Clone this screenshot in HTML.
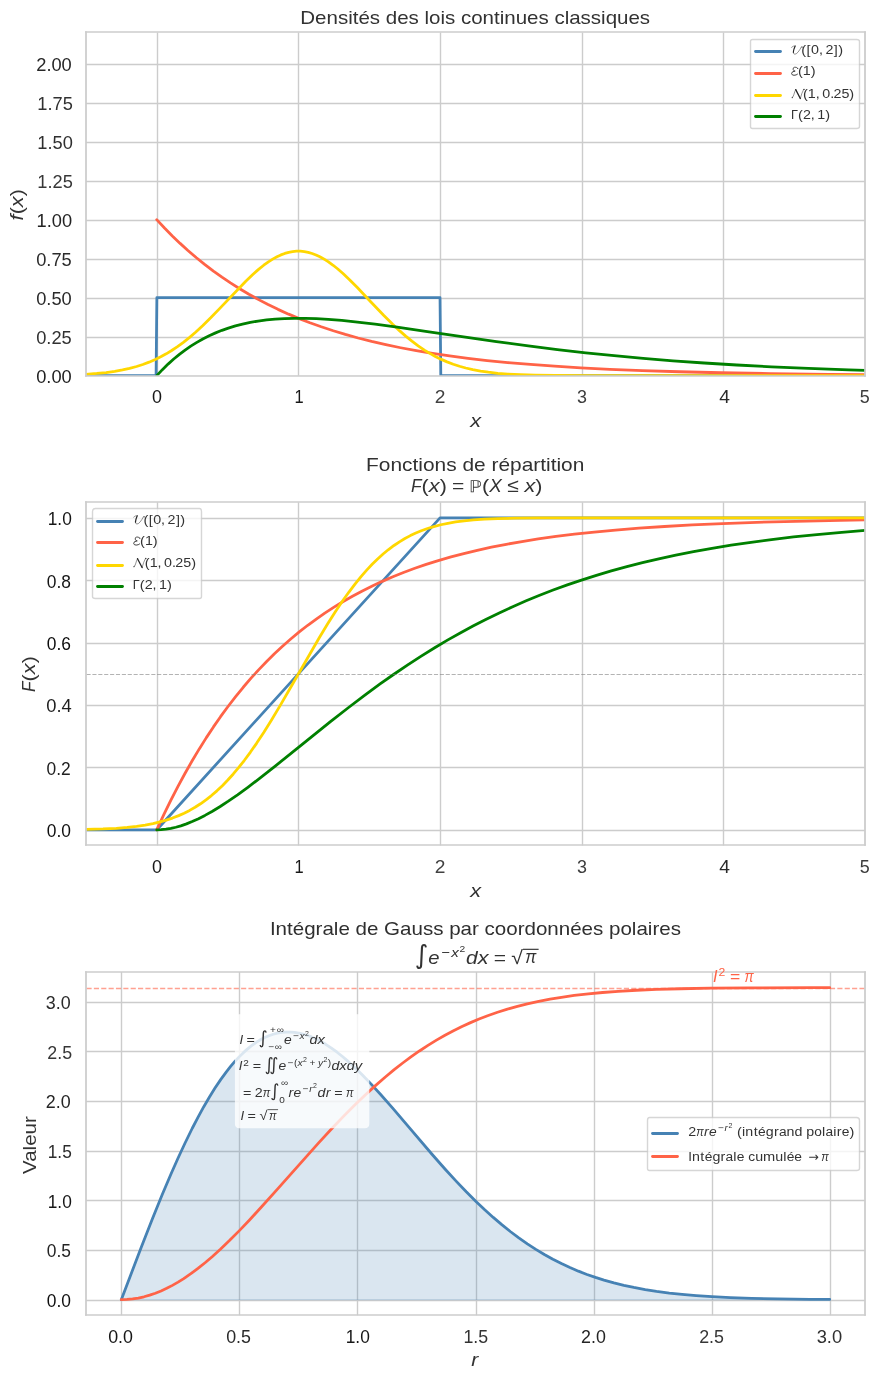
<!DOCTYPE html>
<html><head><meta charset="utf-8"><title>Lois continues</title>
<style>html,body{margin:0;padding:0;background:#fff;width:880px;height:1380px;overflow:hidden;font-family:"Liberation Sans",sans-serif}
#fig{position:relative;width:880px;height:1380px;overflow:hidden;will-change:transform}</style></head>
<body><div id="fig">
<svg width="880" height="1380" viewBox="0 0 880 1380" style="position:absolute;left:0;top:0"><g transform="translate(-9.8 -10.2) scale(1.3888889)">
<defs>
<style type="text/css">*{stroke-linejoin: round; stroke-linecap: butt}</style>
</defs>
<g id="figure_1">
<g id="patch_1">
<path d="M 0 1008 L 648 1008 L 648 0 L 0 0 z
" style="fill: #ffffff"/>
</g>
<g id="axes_1">
<g id="patch_2">
<path d="M 68.886 277.812 L 629.964 277.812 L 629.964 30.696 L 68.886 30.696 z
" style="fill: #ffffff"/>
</g>
<g id="matplotlib.axis_1">
<g id="xtick_1">
<g id="line2d_1">
<path d="M 120.4560 278.4240 L 120.4560 30.7440" clip-path="url(#pe4b443ccc8)" style="fill: none; stroke: #cccccc; stroke-linecap: round"/>
</g>
<g id="T2">
<g id="T2_0" transform="translate(0.2160 0.0000)">
<text style="font-size: 12.644px; font-family: 'Liberation Sans', sans-serif; text-anchor: middle; fill: #161616" x="119.893091" y="297.392" transform="rotate(-0 119.893091 297.392)" textLength="7.185" lengthAdjust="spacingAndGlyphs">0</text>
</g>
</g>
</g>
<g id="xtick_2">
<g id="line2d_2">
<path d="M 221.9760 278.4240 L 221.9760 30.7440" clip-path="url(#pe4b443ccc8)" style="fill: none; stroke: #cccccc; stroke-linecap: round"/>
</g>
<g id="T3">
<g id="T3_0" transform="translate(0.5040 0.0000)">
<text style="font-size: 12.644px; font-family: 'Liberation Sans', sans-serif; text-anchor: middle; fill: #181818" x="221.907273" y="297.392" transform="rotate(-0 221.907273 297.392)" textLength="6.587" lengthAdjust="spacingAndGlyphs">1</text>
</g>
</g>
</g>
<g id="xtick_3">
<g id="line2d_3">
<path d="M 324.2160 278.4240 L 324.2160 30.7440" clip-path="url(#pe4b443ccc8)" style="fill: none; stroke: #cccccc; stroke-linecap: round"/>
</g>
<g id="T4">
<g id="T4_0" transform="translate(0.0000 0.0000)">
<text style="font-size: 12.644px; font-family: 'Liberation Sans', sans-serif; text-anchor: middle; fill: #414141" x="323.921455" y="297.392" transform="rotate(-0 323.921455 297.392)" textLength="7.699" lengthAdjust="spacingAndGlyphs">2</text>
</g>
</g>
</g>
<g id="xtick_4">
<g id="line2d_4">
<path d="M 426.4560 278.4240 L 426.4560 30.7440" clip-path="url(#pe4b443ccc8)" style="fill: none; stroke: #cccccc; stroke-linecap: round"/>
</g>
<g id="T5">
<g id="T5_0" transform="translate(0.2160 0.0000)">
<text style="font-size: 12.644px; font-family: 'Liberation Sans', sans-serif; text-anchor: middle; fill: #3d3d3d" x="425.935636" y="297.392" transform="rotate(-0 425.935636 297.392)" textLength="7.185" lengthAdjust="spacingAndGlyphs">3</text>
</g>
</g>
</g>
<g id="xtick_5">
<g id="line2d_5">
<path d="M 527.9760 278.4240 L 527.9760 30.7440" clip-path="url(#pe4b443ccc8)" style="fill: none; stroke: #cccccc; stroke-linecap: round"/>
</g>
<g id="T6">
<g id="T6_0" transform="translate(0.7560 0.0000)">
<text style="font-size: 12.644px; font-family: 'Liberation Sans', sans-serif; text-anchor: middle; fill: #292929" x="527.949818" y="297.392" transform="rotate(-0 527.949818 297.392)" textLength="7.699" lengthAdjust="spacingAndGlyphs">4</text>
</g>
</g>
</g>
<g id="xtick_6">
<g id="line2d_6">
<path d="M 630.2160 278.4240 L 630.2160 30.7440" clip-path="url(#pe4b443ccc8)" style="fill: none; stroke: #cccccc; stroke-linecap: round"/>
</g>
<g id="T7">
<g id="T7_0" transform="translate(-0.2160 0.0000)">
<text style="font-size: 12.644px; font-family: 'Liberation Sans', sans-serif; text-anchor: middle; fill: #3c3c3c" x="629.964" y="297.392" transform="rotate(-0 629.964 297.392)" textLength="7.185" lengthAdjust="spacingAndGlyphs">5</text>
</g>
</g>
</g>
<g id="T0">
<g id="T0_0" transform="translate(1.0080 1.0080)">
<!-- $x$ -->
<g style="fill: #333333" transform="translate(344.565 314.352)">
<text x="0.0000" y="-0.8906" textLength="7.8117" lengthAdjust="spacingAndGlyphs" style="font-style: italic; font-size: 13.794px; font-family: 'Liberation Sans'; fill: #333333">x</text>
</g>
</g>
</g>
</g>
<g id="matplotlib.axis_2">
<g id="ytick_1">
<g id="line2d_7">
<path d="M 69.3360 278.4240 L 630.2160 278.4240" clip-path="url(#pe4b443ccc8)" style="fill: none; stroke: #cccccc; stroke-linecap: round"/>
</g>
<g id="T9">
<g id="T9_0" transform="translate(-0.6480 0.0000)">
<text style="font-size: 12.644px; font-family: 'Liberation Sans', sans-serif; text-anchor: end; fill: #1f1f1f" x="59.386" y="282.852" transform="rotate(-0 59.386 282.852)" textLength="25.616" lengthAdjust="spacingAndGlyphs">0.00</text>
</g>
</g>
</g>
<g id="ytick_2">
<g id="line2d_8">
<path d="M 69.3360 250.3440 L 630.2160 250.3440" clip-path="url(#pe4b443ccc8)" style="fill: none; stroke: #cccccc; stroke-linecap: round"/>
</g>
<g id="T10">
<g id="T10_0" transform="translate(-0.6480 0.0000)">
<text style="font-size: 12.644px; font-family: 'Liberation Sans', sans-serif; text-anchor: end; fill: #313131" x="59.386" y="254.770636" transform="rotate(-0 59.386 254.770636)" textLength="25.616" lengthAdjust="spacingAndGlyphs">0.25</text>
</g>
</g>
</g>
<g id="ytick_3">
<g id="line2d_9">
<path d="M 69.3360 222.2640 L 630.2160 222.2640" clip-path="url(#pe4b443ccc8)" style="fill: none; stroke: #cccccc; stroke-linecap: round"/>
</g>
<g id="T11">
<g id="T11_0" transform="translate(-0.6480 0.0000)">
<text style="font-size: 12.644px; font-family: 'Liberation Sans', sans-serif; text-anchor: end; fill: #2a2a2a" x="59.386" y="226.689273" transform="rotate(-0 59.386 226.689273)" textLength="25.616" lengthAdjust="spacingAndGlyphs">0.50</text>
</g>
</g>
</g>
<g id="ytick_4">
<g id="line2d_10">
<path d="M 69.3360 194.1840 L 630.2160 194.1840" clip-path="url(#pe4b443ccc8)" style="fill: none; stroke: #cccccc; stroke-linecap: round"/>
</g>
<g id="T12">
<g id="T12_0" transform="translate(-0.6480 0.0000)">
<text style="font-size: 12.644px; font-family: 'Liberation Sans', sans-serif; text-anchor: end; fill: #2b2b2b" x="59.386" y="198.607909" transform="rotate(-0 59.386 198.607909)" textLength="25.616" lengthAdjust="spacingAndGlyphs">0.75</text>
</g>
</g>
</g>
<g id="ytick_5">
<g id="line2d_11">
<path d="M 69.3360 166.1040 L 630.2160 166.1040" clip-path="url(#pe4b443ccc8)" style="fill: none; stroke: #cccccc; stroke-linecap: round"/>
</g>
<g id="T13">
<g id="T13_0" transform="translate(-0.3960 0.0000)">
<text style="font-size: 12.644px; font-family: 'Liberation Sans', sans-serif; text-anchor: end; fill: #232323" x="59.386" y="170.526545" transform="rotate(-0 59.386 170.526545)" textLength="25.559" lengthAdjust="spacingAndGlyphs">1.00</text>
</g>
</g>
</g>
<g id="ytick_6">
<g id="line2d_12">
<path d="M 69.3360 138.0240 L 630.2160 138.0240" clip-path="url(#pe4b443ccc8)" style="fill: none; stroke: #cccccc; stroke-linecap: round"/>
</g>
<g id="T14">
<g id="T14_0" transform="translate(0.1080 0.0000)">
<text style="font-size: 12.644px; font-family: 'Liberation Sans', sans-serif; text-anchor: end; fill: #373737" x="59.386" y="142.445182" transform="rotate(-0 59.386 142.445182)" textLength="25.578" lengthAdjust="spacingAndGlyphs">1.25</text>
</g>
</g>
</g>
<g id="ytick_7">
<g id="line2d_13">
<path d="M 69.3360 109.9440 L 630.2160 109.9440" clip-path="url(#pe4b443ccc8)" style="fill: none; stroke: #cccccc; stroke-linecap: round"/>
</g>
<g id="T15">
<g id="T15_0" transform="translate(0.1080 0.0000)">
<text style="font-size: 12.644px; font-family: 'Liberation Sans', sans-serif; text-anchor: end; fill: #2f2f2f" x="59.386" y="114.363818" transform="rotate(-0 59.386 114.363818)" textLength="25.578" lengthAdjust="spacingAndGlyphs">1.50</text>
</g>
</g>
</g>
<g id="ytick_8">
<g id="line2d_14">
<path d="M 69.3360 81.8640 L 630.2160 81.8640" clip-path="url(#pe4b443ccc8)" style="fill: none; stroke: #cccccc; stroke-linecap: round"/>
</g>
<g id="T16">
<g id="T16_0" transform="translate(0.1080 0.0000)">
<text style="font-size: 12.644px; font-family: 'Liberation Sans', sans-serif; text-anchor: end; fill: #313131" x="59.386" y="86.282455" transform="rotate(-0 59.386 86.282455)" textLength="25.578" lengthAdjust="spacingAndGlyphs">1.75</text>
</g>
</g>
</g>
<g id="ytick_9">
<g id="line2d_15">
<path d="M 69.3360 53.7840 L 630.2160 53.7840" clip-path="url(#pe4b443ccc8)" style="fill: none; stroke: #cccccc; stroke-linecap: round"/>
</g>
<g id="T17">
<g id="T17_0" transform="translate(-0.6480 0.0000)">
<text style="font-size: 12.644px; font-family: 'Liberation Sans', sans-serif; text-anchor: end; fill: #272727" x="59.386" y="58.201091" transform="rotate(-0 59.386 58.201091)" textLength="25.597" lengthAdjust="spacingAndGlyphs">2.00</text>
</g>
</g>
</g>
<g id="T8">
<g id="T8_0" transform="translate(-1.7640 0.5040)">
<!-- $f(x)$ -->
<g style="fill: #333333" transform="translate(25.776 165.817682) rotate(-90)">
<text x="0.2157" y="-0.1250" textLength="4.2157" lengthAdjust="spacingAndGlyphs" style="font-style: italic; font-size: 13.794px; font-family: 'Liberation Sans'; fill: #333333">f</text>
<text x="9.8340" y="-0.1250" textLength="7.8117" lengthAdjust="spacingAndGlyphs" style="font-style: italic; font-size: 13.794px; font-family: 'Liberation Sans'; fill: #333333">x</text>
<text x="4.6647" y="-0.1250" textLength="5.1498" lengthAdjust="spacingAndGlyphs" style="font-style: normal; font-size: 13.794px; font-family: 'Liberation Sans'; fill: #333333">(</text>
<text x="17.6753" y="-0.1250" textLength="5.1498" lengthAdjust="spacingAndGlyphs" style="font-style: normal; font-size: 13.794px; font-family: 'Liberation Sans'; fill: #333333">)</text>
</g>
</g>
</g>
</g>
<g id="line2d_16">
<path d="M 68.886 277.812 L 119.433568 277.812 L 119.995207 221.649273 L 323.870396 221.649273 L 324.432036 277.812 L 629.964 277.812 L 629.964 277.812 " clip-path="url(#pe4b443ccc8)" style="fill: none; stroke: #4682b4; stroke-width: 2; stroke-linecap: round"/>
</g>
<g id="line2d_17">
<path d="M 119.893091 165.486545 L 125.509487 171.503479 L 131.125884 177.198103 L 136.74228 182.587683 L 142.358676 187.68856 L 148.485654 192.942038 L 154.612632 197.889281 L 160.73961 202.548138 L 166.866588 206.935421 L 172.993566 211.06696 L 179.631125 215.271464 L 186.268685 219.211112 L 192.906244 222.902587 L 200.054385 226.61839 L 207.202526 230.082739 L 214.861248 233.534813 L 222.519971 236.737212 L 230.178693 239.707994 L 238.347997 242.640386 L 247.027882 245.509189 L 255.707767 248.143996 L 264.898234 250.699928 L 274.599283 253.15936 L 284.810912 255.507602 L 295.533124 257.732914 L 306.765916 259.82645 L 318.509291 261.782135 L 330.763247 263.596493 L 344.038365 265.331052 L 357.824066 266.908671 L 372.630929 268.381746 L 388.969536 269.777355 L 406.329307 271.034606 L 425.220822 272.180322 L 446.154663 273.22511 L 469.641412 274.1684 L 496.191649 275.003328 L 526.315957 275.721472 L 561.54608 276.331957 L 603.924344 276.835074 L 629.964 277.055157 L 629.964 277.055157 " clip-path="url(#pe4b443ccc8)" style="fill: none; stroke: #ff6347; stroke-width: 2; stroke-linecap: round"/>
</g>
<g id="line2d_18">
<path d="M 68.886 276.816381 L 76.748955 276.249652 L 83.488631 275.556237 L 89.666667 274.701321 L 95.283063 273.698602 L 100.33782 272.577083 L 105.392577 271.214889 L 109.885694 269.775688 L 114.378811 268.098184 L 118.871928 266.161272 L 122.803405 264.238824 L 126.734883 262.092823 L 130.66636 259.715356 L 134.597838 257.10171 L 139.090955 253.824513 L 143.584072 250.243482 L 148.077189 246.372751 L 153.131946 241.701362 L 158.748342 236.174876 L 165.488018 229.199836 L 184.022126 209.79377 L 189.076883 204.957043 L 193.00836 201.478621 L 196.939838 198.307854 L 200.309676 195.873788 L 203.679514 193.732985 L 206.487712 192.192265 L 209.29591 190.887185 L 212.104108 189.829298 L 214.912306 189.028053 L 217.720505 188.490661 L 220.528703 188.221981 L 223.336901 188.22445 L 226.145099 188.498045 L 228.953297 189.040285 L 231.761495 189.846267 L 234.569694 190.908739 L 237.377892 192.218213 L 240.18609 193.763098 L 243.555928 195.908551 L 246.925766 198.34684 L 250.295604 201.048325 L 254.227081 204.489805 L 258.720198 208.738716 L 264.336595 214.401019 L 272.761189 223.289817 L 283.432342 234.512441 L 289.610378 240.671418 L 294.665135 245.408612 L 299.158252 249.345384 L 303.651369 252.997167 L 308.144486 256.347688 L 312.637604 259.389326 L 316.569081 261.797274 L 320.500559 263.97295 L 324.432036 265.923887 L 328.925153 267.89152 L 333.41827 269.597473 L 337.911387 271.062642 L 342.404505 272.309342 L 347.459261 273.479205 L 353.075658 274.527814 L 358.692054 275.352641 L 365.43173 276.101416 L 372.733045 276.680197 L 381.719279 277.150108 L 392.390432 277.475789 L 406.993063 277.688048 L 431.705207 277.792999 L 518.197712 277.811996 L 629.964 277.812 L 629.964 277.812 " clip-path="url(#pe4b443ccc8)" style="fill: none; stroke: #ffd700; stroke-width: 2; stroke-linecap: round"/>
</g>
<g id="line2d_19">
<path d="M 119.893091 277.812 L 123.977743 273.491007 L 128.062395 269.509204 L 132.147047 265.846622 L 136.231699 262.484335 L 140.316351 259.404414 L 144.401002 256.589872 L 148.485654 254.024623 L 153.080888 251.417766 L 157.676121 249.086697 L 162.271355 247.012181 L 166.866588 245.176138 L 171.461821 243.561586 L 176.567636 242.008048 L 181.673451 240.687818 L 187.289848 239.482306 L 192.906244 238.51247 L 199.033222 237.697696 L 205.1602 237.11145 L 211.797759 236.706596 L 218.9459 236.507526 L 226.604622 236.532259 L 234.773926 236.792076 L 243.453812 237.291414 L 253.15486 238.074404 L 264.387653 239.217333 L 277.15219 240.748158 L 292.980216 242.880568 L 315.956383 246.223148 L 364.461625 253.319013 L 387.437792 256.421376 L 408.371633 259.026571 L 428.794893 261.346224 L 449.218152 263.442531 L 470.151993 265.3644 L 491.596416 267.106678 L 514.062002 268.703534 L 537.54875 270.145564 L 562.567243 271.453559 L 589.117481 272.616618 L 618.220626 273.663855 L 629.964 274.027785 L 629.964 274.027785 " clip-path="url(#pe4b443ccc8)" style="fill: none; stroke: #008000; stroke-width: 2; stroke-linecap: round"/>
</g>
<g id="patch_3">
<path d="M 68.9760 278.0640 L 68.9760 30.3840" style="fill: none; stroke: #cccccc; stroke-width: 1.25; stroke-linejoin: miter; stroke-linecap: square"/>
</g>
<g id="patch_4">
<path d="M 629.8560 278.0640 L 629.8560 30.3840" style="fill: none; stroke: #cccccc; stroke-width: 1.25; stroke-linejoin: miter; stroke-linecap: square"/>
</g>
<g id="patch_5">
<path d="M 68.9760 278.0640 L 629.8560 278.0640" style="fill: none; stroke: #cccccc; stroke-width: 1.25; stroke-linejoin: miter; stroke-linecap: square"/>
</g>
<g id="patch_6">
<path d="M 68.9760 30.3840 L 629.8560 30.3840" style="fill: none; stroke: #cccccc; stroke-width: 1.25; stroke-linejoin: miter; stroke-linecap: square"/>
</g>
<g id="T19">
<g id="T19_0" transform="translate(-0.2160 0.0000)">
<text style="font-size: 13.794px; font-family: 'Liberation Sans', sans-serif; text-anchor: middle; fill: #323232" x="349.425" y="24.696" transform="rotate(-0 349.425 24.696)" textLength="251.829" lengthAdjust="spacingAndGlyphs">Densités des lois continues classiques</text>
</g>
</g>
<g id="legend_1">
<g id="patch_7">
<path d="M 548.8560 99.8640 L 623.7360 99.8640 Q 625.8960 99.8640 625.8960 98.4240 L 625.8960 37.2240 Q 625.8960 35.7840 623.7360 35.7840 L 548.8560 35.7840 Q 547.4160 35.7840 547.4160 37.2240 L 547.4160 98.4240 Q 547.4160 99.8640 548.8560 99.8640 z
" style="fill: #ffffff; opacity: 0.8; stroke: #cccccc; stroke-linejoin: miter"/>
</g>
<g id="line2d_20">
<path d="M 551.0160 44.4240 L 559.6560 44.4240 L 569.0160 44.4240" style="fill: none; stroke: #4682b4; stroke-width: 2; stroke-linecap: round"/>
</g>
<g id="T20">
<g id="T20_0" transform="translate(1.0080 -1.0080)">
<!-- $\mathcal{U}([0,2])$ -->
<g style="fill: #333333" transform="translate(575.62539 47.436)">
<g transform="translate(0.0000 -0.1562) scale(0.009000 -0.009000)"><path d="M 37 539 Q 150 680 330 650" style="fill: none; stroke: #262626; stroke-width: 38; stroke-linecap: round"/><path d="M 325 645 Q 185 330 182 140" style="fill: none; stroke: #262626; stroke-width: 95; stroke-linecap: round"/><path d="M 182 150 Q 175 -12 300 -12 Q 520 -12 830 580" style="fill: none; stroke: #262626; stroke-width: 40; stroke-linecap: round"/><circle cx="880" cy="560" r="55" style="fill: #333333"/></g>
<text x="7.3530" y="-0.1562" textLength="3.5112" lengthAdjust="spacingAndGlyphs" style="font-style: normal; font-size: 9.405px; font-family: 'Liberation Sans'; fill: #333333">(</text>
<text x="11.1827" y="-0.1562" textLength="2.8743" lengthAdjust="spacingAndGlyphs" style="font-style: normal; font-size: 9.405px; font-family: 'Liberation Sans'; fill: #333333">[</text>
<text x="14.3755" y="-0.1562" textLength="5.7261" lengthAdjust="spacingAndGlyphs" style="font-style: normal; font-size: 9.405px; font-family: 'Liberation Sans'; fill: #333333">0</text>
<text x="20.1015" y="-0.1562" textLength="2.8608" lengthAdjust="spacingAndGlyphs" style="font-style: normal; font-size: 9.405px; font-family: 'Liberation Sans'; fill: #333333">,</text>
<text x="24.7158" y="-0.1562" textLength="5.7261" lengthAdjust="spacingAndGlyphs" style="font-style: normal; font-size: 9.405px; font-family: 'Liberation Sans'; fill: #333333">2</text>
<text x="30.7603" y="-0.1562" textLength="2.8743" lengthAdjust="spacingAndGlyphs" style="font-style: normal; font-size: 9.405px; font-family: 'Liberation Sans'; fill: #333333">]</text>
<text x="33.9531" y="-0.1562" textLength="3.5112" lengthAdjust="spacingAndGlyphs" style="font-style: normal; font-size: 9.405px; font-family: 'Liberation Sans'; fill: #333333">)</text>
</g>
</g>
</g>
<g id="line2d_21">
<path d="M 551.0160 60.2640 L 559.6560 60.2640 L 569.0160 60.2640" style="fill: none; stroke: #ff6347; stroke-width: 2; stroke-linecap: round"/>
</g>
<g id="T21">
<g id="T21_0" transform="translate(0.9720 -1.0080)">
<!-- $\mathcal{E}(1)$ -->
<g style="fill: #333333" transform="translate(575.62539 62.736)">
<g transform="translate(0.0000 -0.1719) scale(0.009000 -0.009000)"><path d="M 520 570 Q 480 660 300 650 Q 150 630 165 480 Q 185 350 300 335" style="fill: none; stroke: #262626; stroke-width: 62; stroke-linecap: round"/><path d="M 300 335 Q 40 310 45 140 Q 60 0 240 0 Q 420 0 520 90" style="fill: none; stroke: #262626; stroke-width: 70; stroke-linecap: round"/><circle cx="530" cy="555" r="48" style="fill: #333333"/></g>
<text x="4.9770" y="-0.1719" textLength="3.5112" lengthAdjust="spacingAndGlyphs" style="font-style: normal; font-size: 9.405px; font-family: 'Liberation Sans'; fill: #333333">(</text>
<text x="8.4882" y="-0.1719" textLength="5.7261" lengthAdjust="spacingAndGlyphs" style="font-style: normal; font-size: 9.405px; font-family: 'Liberation Sans'; fill: #333333">1</text>
<text x="14.2143" y="-0.1719" textLength="3.5112" lengthAdjust="spacingAndGlyphs" style="font-style: normal; font-size: 9.405px; font-family: 'Liberation Sans'; fill: #333333">)</text>
</g>
</g>
</g>
<g id="line2d_22">
<path d="M 551.0160 76.1040 L 559.6560 76.1040 L 569.0160 76.1040" style="fill: none; stroke: #ffd700; stroke-width: 2; stroke-linecap: round"/>
</g>
<g id="T22">
<g id="T22_0" transform="translate(0.9720 0.0000)">
<!-- $\mathcal{N}(1,0.25)$ -->
<g style="fill: #333333" transform="translate(575.62539 78.756)">
<g transform="translate(0.0000 -0.8438) scale(0.009000 -0.009000)"><path d="M 98 29 Q 150 30 220 250 Q 300 560 376 673" style="fill: none; stroke: #262626; stroke-width: 40; stroke-linecap: round"/><path d="M 376 673 L 742 -37" style="fill: none; stroke: #262626; stroke-width: 105; stroke-linecap: round"/><path d="M 742 -37 Q 850 400 1010 690" style="fill: none; stroke: #262626; stroke-width: 40; stroke-linecap: round"/><circle cx="98" cy="40" r="50" style="fill: #333333"/><circle cx="1040" cy="690" r="55" style="fill: #333333"/></g>
<text x="8.6130" y="-0.8438" textLength="3.5112" lengthAdjust="spacingAndGlyphs" style="font-style: normal; font-size: 9.405px; font-family: 'Liberation Sans'; fill: #333333">(</text>
<text x="12.1242" y="-0.8438" textLength="5.7261" lengthAdjust="spacingAndGlyphs" style="font-style: normal; font-size: 9.405px; font-family: 'Liberation Sans'; fill: #333333">1</text>
<text x="17.8503" y="-0.8438" textLength="2.8608" lengthAdjust="spacingAndGlyphs" style="font-style: normal; font-size: 9.405px; font-family: 'Liberation Sans'; fill: #333333">,</text>
<text x="22.4646" y="-0.8438" textLength="5.7261" lengthAdjust="spacingAndGlyphs" style="font-style: normal; font-size: 9.405px; font-family: 'Liberation Sans'; fill: #333333">0</text>
<text x="28.1906" y="-0.8438" textLength="2.8608" lengthAdjust="spacingAndGlyphs" style="font-style: normal; font-size: 9.405px; font-family: 'Liberation Sans'; fill: #333333">.</text>
<text x="30.5515" y="-0.8438" textLength="5.7261" lengthAdjust="spacingAndGlyphs" style="font-style: normal; font-size: 9.405px; font-family: 'Liberation Sans'; fill: #333333">2</text>
<text x="36.2775" y="-0.8438" textLength="5.7261" lengthAdjust="spacingAndGlyphs" style="font-style: normal; font-size: 9.405px; font-family: 'Liberation Sans'; fill: #333333">5</text>
<text x="42.0036" y="-0.8438" textLength="3.5112" lengthAdjust="spacingAndGlyphs" style="font-style: normal; font-size: 9.405px; font-family: 'Liberation Sans'; fill: #333333">)</text>
</g>
</g>
</g>
<g id="line2d_23">
<path d="M 551.0160 91.2240 L 559.6560 91.2240 L 569.0160 91.2240" style="fill: none; stroke: #008000; stroke-width: 2; stroke-linecap: round"/>
</g>
<g id="T23">
<g id="T23_0" transform="translate(1.0080 -0.5040)">
<!-- $\Gamma(2,1)$ -->
<g style="fill: #333333" transform="translate(575.62539 94.056)">
<text x="0.0000" y="-0.1719" textLength="5.0142" lengthAdjust="spacingAndGlyphs" style="font-style: normal; font-size: 9.405px; font-family: 'Liberation Sans'; fill: #333333">Γ</text>
<text x="5.0142" y="-0.1719" textLength="3.5112" lengthAdjust="spacingAndGlyphs" style="font-style: normal; font-size: 9.405px; font-family: 'Liberation Sans'; fill: #333333">(</text>
<text x="8.5254" y="-0.1719" textLength="5.7261" lengthAdjust="spacingAndGlyphs" style="font-style: normal; font-size: 9.405px; font-family: 'Liberation Sans'; fill: #333333">2</text>
<text x="14.2515" y="-0.1719" textLength="2.8608" lengthAdjust="spacingAndGlyphs" style="font-style: normal; font-size: 9.405px; font-family: 'Liberation Sans'; fill: #333333">,</text>
<text x="18.8657" y="-0.1719" textLength="5.7261" lengthAdjust="spacingAndGlyphs" style="font-style: normal; font-size: 9.405px; font-family: 'Liberation Sans'; fill: #333333">1</text>
<text x="24.5918" y="-0.1719" textLength="3.5112" lengthAdjust="spacingAndGlyphs" style="font-style: normal; font-size: 9.405px; font-family: 'Liberation Sans'; fill: #333333">)</text>
</g>
</g>
</g>
</g>
</g>
<g id="axes_2">
<g id="patch_8">
<path d="M 68.886 616.068 L 629.964 616.068 L 629.964 368.952 L 68.886 368.952 z
" style="fill: #ffffff"/>
</g>
<g id="matplotlib.axis_3">
<g id="xtick_7">
<g id="line2d_24">
<path d="M 120.4560 616.1040 L 120.4560 369.1440" clip-path="url(#pe4210bb935)" style="fill: none; stroke: #cccccc; stroke-linecap: round"/>
</g>
<g id="T26">
<g id="T26_0" transform="translate(0.2160 0.0000)">
<text style="font-size: 12.644px; font-family: 'Liberation Sans', sans-serif; text-anchor: middle; fill: #161616" x="119.893091" y="635.648" transform="rotate(-0 119.893091 635.648)" textLength="7.185" lengthAdjust="spacingAndGlyphs">0</text>
</g>
</g>
</g>
<g id="xtick_8">
<g id="line2d_25">
<path d="M 221.9760 616.1040 L 221.9760 369.1440" clip-path="url(#pe4210bb935)" style="fill: none; stroke: #cccccc; stroke-linecap: round"/>
</g>
<g id="T27">
<g id="T27_0" transform="translate(0.5040 0.0000)">
<text style="font-size: 12.644px; font-family: 'Liberation Sans', sans-serif; text-anchor: middle; fill: #181818" x="221.907273" y="635.648" transform="rotate(-0 221.907273 635.648)" textLength="6.587" lengthAdjust="spacingAndGlyphs">1</text>
</g>
</g>
</g>
<g id="xtick_9">
<g id="line2d_26">
<path d="M 324.2160 616.1040 L 324.2160 369.1440" clip-path="url(#pe4210bb935)" style="fill: none; stroke: #cccccc; stroke-linecap: round"/>
</g>
<g id="T28">
<g id="T28_0" transform="translate(0.0000 0.0000)">
<text style="font-size: 12.644px; font-family: 'Liberation Sans', sans-serif; text-anchor: middle; fill: #414141" x="323.921455" y="635.648" transform="rotate(-0 323.921455 635.648)" textLength="7.699" lengthAdjust="spacingAndGlyphs">2</text>
</g>
</g>
</g>
<g id="xtick_10">
<g id="line2d_27">
<path d="M 426.4560 616.1040 L 426.4560 369.1440" clip-path="url(#pe4210bb935)" style="fill: none; stroke: #cccccc; stroke-linecap: round"/>
</g>
<g id="T29">
<g id="T29_0" transform="translate(0.2160 0.0000)">
<text style="font-size: 12.644px; font-family: 'Liberation Sans', sans-serif; text-anchor: middle; fill: #3d3d3d" x="425.935636" y="635.648" transform="rotate(-0 425.935636 635.648)" textLength="7.185" lengthAdjust="spacingAndGlyphs">3</text>
</g>
</g>
</g>
<g id="xtick_11">
<g id="line2d_28">
<path d="M 527.9760 616.1040 L 527.9760 369.1440" clip-path="url(#pe4210bb935)" style="fill: none; stroke: #cccccc; stroke-linecap: round"/>
</g>
<g id="T30">
<g id="T30_0" transform="translate(0.7560 0.0000)">
<text style="font-size: 12.644px; font-family: 'Liberation Sans', sans-serif; text-anchor: middle; fill: #292929" x="527.949818" y="635.648" transform="rotate(-0 527.949818 635.648)" textLength="7.699" lengthAdjust="spacingAndGlyphs">4</text>
</g>
</g>
</g>
<g id="xtick_12">
<g id="line2d_29">
<path d="M 630.2160 616.1040 L 630.2160 369.1440" clip-path="url(#pe4210bb935)" style="fill: none; stroke: #cccccc; stroke-linecap: round"/>
</g>
<g id="T31">
<g id="T31_0" transform="translate(-0.2160 0.0000)">
<text style="font-size: 12.644px; font-family: 'Liberation Sans', sans-serif; text-anchor: middle; fill: #3c3c3c" x="629.964" y="635.648" transform="rotate(-0 629.964 635.648)" textLength="7.185" lengthAdjust="spacingAndGlyphs">5</text>
</g>
</g>
</g>
<g id="T24">
<g id="T24_0" transform="translate(1.0080 1.5120)">
<!-- $x$ -->
<g style="fill: #333333" transform="translate(344.565 652.608)">
<text x="0.0000" y="-0.8906" textLength="7.8117" lengthAdjust="spacingAndGlyphs" style="font-style: italic; font-size: 13.794px; font-family: 'Liberation Sans'; fill: #333333">x</text>
</g>
</g>
</g>
</g>
<g id="matplotlib.axis_4">
<g id="ytick_10">
<g id="line2d_30">
<path d="M 69.3360 605.3040 L 630.2160 605.3040" clip-path="url(#pe4210bb935)" style="fill: none; stroke: #cccccc; stroke-linecap: round"/>
</g>
<g id="T34">
<g id="T34_0" transform="translate(-1.1880 0.0000)">
<text style="font-size: 12.644px; font-family: 'Liberation Sans', sans-serif; text-anchor: end; fill: #0f0f0f" x="59.386" y="609.875455" transform="rotate(-0 59.386 609.875455)" textLength="17.415" lengthAdjust="spacingAndGlyphs">0.0</text>
</g>
</g>
</g>
<g id="ytick_11">
<g id="line2d_31">
<path d="M 69.3360 559.9440 L 630.2160 559.9440" clip-path="url(#pe4210bb935)" style="fill: none; stroke: #cccccc; stroke-linecap: round"/>
</g>
<g id="T35">
<g id="T35_0" transform="translate(-1.3680 0.5040)">
<text style="font-size: 12.644px; font-family: 'Liberation Sans', sans-serif; text-anchor: end; fill: #202020" x="59.386" y="564.945273" transform="rotate(-0 59.386 564.945273)" textLength="17.415" lengthAdjust="spacingAndGlyphs">0.2</text>
</g>
</g>
</g>
<g id="ytick_12">
<g id="line2d_32">
<path d="M 69.3360 515.3040 L 630.2160 515.3040" clip-path="url(#pe4210bb935)" style="fill: none; stroke: #cccccc; stroke-linecap: round"/>
</g>
<g id="T36">
<g id="T36_0" transform="translate(-0.6840 0.0000)">
<text style="font-size: 12.644px; font-family: 'Liberation Sans', sans-serif; text-anchor: end; fill: #1f1f1f" x="59.386" y="520.015091" transform="rotate(-0 59.386 520.015091)" textLength="18.381" lengthAdjust="spacingAndGlyphs">0.4</text>
</g>
</g>
</g>
<g id="ytick_13">
<g id="line2d_33">
<path d="M 69.3360 470.6640 L 630.2160 470.6640" clip-path="url(#pe4210bb935)" style="fill: none; stroke: #cccccc; stroke-linecap: round"/>
</g>
<g id="T37">
<g id="T37_0" transform="translate(-1.1880 0.0000)">
<text style="font-size: 12.644px; font-family: 'Liberation Sans', sans-serif; text-anchor: end; fill: #0c0c0c" x="59.386" y="475.084909" transform="rotate(-0 59.386 475.084909)" textLength="17.415" lengthAdjust="spacingAndGlyphs">0.6</text>
</g>
</g>
</g>
<g id="ytick_14">
<g id="line2d_34">
<path d="M 69.3360 425.3040 L 630.2160 425.3040" clip-path="url(#pe4210bb935)" style="fill: none; stroke: #cccccc; stroke-linecap: round"/>
</g>
<g id="T38">
<g id="T38_0" transform="translate(-1.1880 0.5040)">
<text style="font-size: 12.644px; font-family: 'Liberation Sans', sans-serif; text-anchor: end; fill: #151515" x="59.386" y="430.154727" transform="rotate(-0 59.386 430.154727)" textLength="17.415" lengthAdjust="spacingAndGlyphs">0.8</text>
</g>
</g>
</g>
<g id="ytick_15">
<g id="line2d_35">
<path d="M 69.3360 380.6640 L 630.2160 380.6640" clip-path="url(#pe4210bb935)" style="fill: none; stroke: #cccccc; stroke-linecap: round"/>
</g>
<g id="T39">
<g id="T39_0" transform="translate(-0.6120 0.0000)">
<text style="font-size: 12.644px; font-family: 'Liberation Sans', sans-serif; text-anchor: end; fill: #161616" x="59.386" y="385.224545" transform="rotate(-0 59.386 385.224545)" textLength="17.339" lengthAdjust="spacingAndGlyphs">1.0</text>
</g>
</g>
</g>
<g id="T32">
<g id="T32_0" transform="translate(-1.2600 0.0000)">
<!-- $F(x)$ -->
<g style="fill: #333333" transform="translate(33.426 505.549783) rotate(-90)">
<text x="0.0000" y="-0.1406" textLength="7.5926" lengthAdjust="spacingAndGlyphs" style="font-style: italic; font-size: 13.794px; font-family: 'Liberation Sans'; fill: #333333">F</text>
<text x="12.7906" y="-0.1406" textLength="7.8117" lengthAdjust="spacingAndGlyphs" style="font-style: italic; font-size: 13.794px; font-family: 'Liberation Sans'; fill: #333333">x</text>
<text x="7.6213" y="-0.1406" textLength="5.1498" lengthAdjust="spacingAndGlyphs" style="font-style: normal; font-size: 13.794px; font-family: 'Liberation Sans'; fill: #333333">(</text>
<text x="20.6320" y="-0.1406" textLength="5.1498" lengthAdjust="spacingAndGlyphs" style="font-style: normal; font-size: 13.794px; font-family: 'Liberation Sans'; fill: #333333">)</text>
</g>
</g>
</g>
</g>
<g id="line2d_36">
<path d="M 68.886 604.835455 L 119.433568 604.835455 L 119.995207 604.723017 L 323.870396 380.240764 L 324.993676 380.184545 L 629.964 380.184545 L 629.964 380.184545 " clip-path="url(#pe4210bb935)" style="fill: none; stroke: #4682b4; stroke-width: 2; stroke-linecap: round"/>
</g>
<g id="line2d_37">
<path d="M 119.893091 604.835455 L 124.998906 593.868405 L 130.104721 583.436747 L 135.210536 573.514344 L 140.316351 564.076335 L 145.422165 555.099071 L 150.52798 546.560062 L 155.633795 538.437912 L 160.73961 530.71227 L 165.845425 523.36378 L 170.95124 516.37403 L 176.567636 509.078773 L 182.184033 502.174301 L 187.800429 495.639681 L 193.416826 489.4551 L 199.033222 483.601809 L 204.649618 478.062061 L 210.266015 472.81906 L 216.392993 467.419206 L 222.519971 462.334121 L 228.646948 457.545456 L 234.773926 453.035931 L 240.900904 448.789276 L 247.538464 444.467624 L 254.176023 440.418207 L 260.813582 436.623878 L 267.961723 432.804543 L 275.109864 429.243668 L 282.258005 425.923763 L 289.916727 422.615621 L 297.57545 419.546744 L 305.744753 416.517525 L 313.914057 413.721427 L 322.593943 410.985962 L 331.78441 408.332385 L 340.974876 405.907416 L 350.675925 403.574004 L 360.887554 401.346084 L 371.609766 399.234795 L 382.842559 397.24853 L 394.585933 395.393053 L 407.35047 393.604327 L 420.625589 391.966861 L 434.921871 390.426163 L 450.239315 388.998264 L 467.088505 387.656408 L 485.469438 386.424445 L 505.382116 385.317949 L 527.33712 384.323957 L 551.845032 383.43994 L 579.927014 382.656572 L 612.093648 381.988034 L 629.964 381.698231 L 629.964 381.698231 " clip-path="url(#pe4210bb935)" style="fill: none; stroke: #ff6347; stroke-width: 2; stroke-linecap: round"/>
</g>
<g id="line2d_38">
<path d="M 68.886 604.532199 L 81.242072 604.181728 L 90.789946 603.695001 L 98.652901 603.074851 L 105.392577 602.324438 L 111.570613 601.406312 L 117.187009 600.334862 L 122.241766 599.139806 L 126.734883 597.864522 L 131.228 596.361582 L 135.721117 594.604028 L 139.652595 592.835873 L 143.584072 590.833824 L 147.51555 588.580364 L 151.447027 586.058938 L 155.378505 583.254382 L 159.309982 580.153374 L 163.241459 576.744876 L 167.172937 573.02058 L 171.104414 568.975318 L 175.035892 564.607443 L 178.967369 559.919146 L 182.898847 554.916716 L 187.391964 548.828734 L 191.885081 542.367081 L 196.939838 534.688748 L 202.556234 525.712712 L 208.73427 515.401074 L 216.597225 501.82327 L 236.816252 466.682239 L 242.994288 456.487648 L 248.610685 447.648335 L 253.665441 440.113831 L 258.158559 433.793387 L 262.651676 427.856264 L 267.144793 422.322294 L 271.07627 417.820761 L 275.007748 413.641412 L 278.939225 409.784162 L 282.870703 406.245261 L 286.80218 403.017659 L 290.733658 400.0914 L 294.665135 397.454055 L 298.596613 395.091173 L 302.52809 392.986723 L 306.459568 391.123538 L 310.391045 389.483723 L 314.884162 387.85977 L 319.377279 386.476572 L 324.432036 385.17518 L 329.486793 384.108654 L 335.103189 383.158004 L 341.281225 382.348627 L 348.020901 381.691751 L 355.883856 381.153194 L 365.43173 380.734464 L 377.787802 380.436457 L 395.198631 380.260961 L 428.897009 380.190104 L 629.964 380.184545 L 629.964 380.184545 " clip-path="url(#pe4210bb935)" style="fill: none; stroke: #ffd700; stroke-width: 2; stroke-linecap: round"/>
</g>
<g id="line2d_39">
<path d="M 119.893091 604.835455 L 122.95658 604.736164 L 126.53065 604.380061 L 130.104721 603.782313 L 133.678791 602.959982 L 137.252862 601.92924 L 141.337514 600.515674 L 145.422165 598.871475 L 150.017399 596.771279 L 154.612632 594.431836 L 159.718447 591.582385 L 165.334844 588.180739 L 171.461821 584.194931 L 178.099381 579.60513 L 185.758103 574.024886 L 194.437989 567.418824 L 205.670781 558.566897 L 223.541133 544.149869 L 244.985556 526.919706 L 258.260675 516.545826 L 270.004049 507.655677 L 280.72626 499.818023 L 290.93789 492.627608 L 300.638939 486.059916 L 310.339987 479.758494 L 320.041035 473.729077 L 329.231502 468.27021 L 338.421969 463.057629 L 347.612436 458.089414 L 356.802903 453.362148 L 366.503951 448.628511 L 376.204999 444.15151 L 385.906048 439.923536 L 395.607096 435.93625 L 405.308144 432.180778 L 415.519774 428.467915 L 425.731404 424.990606 L 436.453615 421.580705 L 447.175826 418.405214 L 458.408619 415.315949 L 469.641412 412.455385 L 481.384786 409.694019 L 493.638742 407.045812 L 506.403279 404.522484 L 519.678398 402.133457 L 533.464098 399.88584 L 547.76038 397.784477 L 562.567243 395.832032 L 578.395269 393.972561 L 595.244459 392.224754 L 613.114811 390.602793 L 629.964 389.266661 L 629.964 389.266661 " clip-path="url(#pe4210bb935)" style="fill: none; stroke: #008000; stroke-width: 2; stroke-linecap: round"/>
</g>
<g id="line2d_40">
<path d="M 69.3360 492.9840 L 630.2160 492.9840" clip-path="url(#pe4210bb935)" style="fill: none; stroke-dasharray: 2.96,1.28; stroke-dashoffset: 0; stroke: #808080; stroke-opacity: 0.6; stroke-width: 0.8"/>
</g>
<g id="patch_9">
<path d="M 68.9760 615.7440 L 68.9760 368.7840" style="fill: none; stroke: #cccccc; stroke-width: 1.25; stroke-linejoin: miter; stroke-linecap: square"/>
</g>
<g id="patch_10">
<path d="M 629.8560 615.7440 L 629.8560 368.7840" style="fill: none; stroke: #cccccc; stroke-width: 1.25; stroke-linejoin: miter; stroke-linecap: square"/>
</g>
<g id="patch_11">
<path d="M 68.9760 615.7440 L 629.8560 615.7440" style="fill: none; stroke: #cccccc; stroke-width: 1.25; stroke-linejoin: miter; stroke-linecap: square"/>
</g>
<g id="patch_12">
<path d="M 68.9760 368.7840 L 629.8560 368.7840" style="fill: none; stroke: #cccccc; stroke-width: 1.25; stroke-linejoin: miter; stroke-linecap: square"/>
</g>
<g id="T41">
<g id="T41_0" transform="translate(0.0000 0.0000)">
<text style="font-size: 13.794px; font-family: 'Liberation Sans', sans-serif; fill: #313131" transform="translate(270.63 346.248)" textLength="157.140" lengthAdjust="spacingAndGlyphs">Fonctions de répartition</text>
</g>
<g id="T41_1" transform="translate(1.0080 -1.0080)">
<!-- $F(x) = \mathbb{P}(X \leq x)$ -->
<g style="fill: #333333" transform="translate(301.992462 362.952)">
<text x="0.0000" y="-0.1406" textLength="7.5926" lengthAdjust="spacingAndGlyphs" style="font-style: italic; font-size: 13.794px; font-family: 'Liberation Sans'; fill: #333333">F</text>
<text x="12.7906" y="-0.1406" textLength="7.8117" lengthAdjust="spacingAndGlyphs" style="font-style: italic; font-size: 13.794px; font-family: 'Liberation Sans'; fill: #333333">x</text>
<text x="56.3382" y="-0.1406" textLength="9.0428" lengthAdjust="spacingAndGlyphs" style="font-style: italic; font-size: 13.794px; font-family: 'Liberation Sans'; fill: #333333">X</text>
<text x="81.6801" y="-0.1406" textLength="7.8117" lengthAdjust="spacingAndGlyphs" style="font-style: italic; font-size: 13.794px; font-family: 'Liberation Sans'; fill: #333333">x</text>
<text x="7.6213" y="-0.1406" textLength="5.1498" lengthAdjust="spacingAndGlyphs" style="font-style: normal; font-size: 13.794px; font-family: 'Liberation Sans'; fill: #333333">(</text>
<text x="20.6320" y="-0.1406" textLength="5.1498" lengthAdjust="spacingAndGlyphs" style="font-style: normal; font-size: 13.794px; font-family: 'Liberation Sans'; fill: #333333">)</text>
<text x="29.4823" y="-0.1406" textLength="8.8610" lengthAdjust="spacingAndGlyphs" style="font-style: normal; font-size: 13.794px; font-family: 'Liberation Sans'; fill: #333333">=</text>
<text x="51.1689" y="-0.1406" textLength="5.1498" lengthAdjust="spacingAndGlyphs" style="font-style: normal; font-size: 13.794px; font-family: 'Liberation Sans'; fill: #333333">(</text>
<text x="69.3629" y="-0.1406" textLength="8.3276" lengthAdjust="spacingAndGlyphs" style="font-style: normal; font-size: 13.794px; font-family: 'Liberation Sans'; fill: #333333">≤</text>
<text x="89.5214" y="-0.1406" textLength="5.1498" lengthAdjust="spacingAndGlyphs" style="font-style: normal; font-size: 13.794px; font-family: 'Liberation Sans'; fill: #333333">)</text>
<path transform="translate(42.0662 -0.1406) scale(0.013200 -0.013200)" d="M70 662H390Q494 662 561 611Q628 560 628 459Q628 357 561.5 305Q495 253 391 253H236V0H70ZM491 604V310Q533 324 558.5 367Q584 410 584 457Q584 507 560 548Q536 589 491 604ZM447 305V609Q429 618 388 618H236V297H381Q430 297 447 305ZM192 44V618H114V44Z" style="fill: #333333"/>
</g>
</g>
</g>
<g id="legend_2">
<g id="patch_13">
<path d="M 75.8160 438.2640 L 150.6960 438.2640 Q 152.1360 438.2640 152.1360 436.8240 L 152.1360 375.6240 Q 152.1360 373.4640 150.6960 373.4640 L 75.8160 373.4640 Q 73.6560 373.4640 73.6560 375.6240 L 73.6560 436.8240 Q 73.6560 438.2640 75.8160 438.2640 z
" style="fill: #ffffff; opacity: 0.8; stroke: #cccccc; stroke-linejoin: miter"/>
</g>
<g id="line2d_41">
<path d="M 77.2560 382.8240 L 86.6160 382.8240 L 95.2560 382.8240" style="fill: none; stroke: #4682b4; stroke-width: 2; stroke-linecap: round"/>
</g>
<g id="T42">
<g id="T42_0" transform="translate(0.7560 -1.0080)">
<!-- $\mathcal{U}([0,2])$ -->
<g style="fill: #333333" transform="translate(102.186 385.692)">
<g transform="translate(0.0000 -0.1562) scale(0.009000 -0.009000)"><path d="M 37 539 Q 150 680 330 650" style="fill: none; stroke: #262626; stroke-width: 38; stroke-linecap: round"/><path d="M 325 645 Q 185 330 182 140" style="fill: none; stroke: #262626; stroke-width: 95; stroke-linecap: round"/><path d="M 182 150 Q 175 -12 300 -12 Q 520 -12 830 580" style="fill: none; stroke: #262626; stroke-width: 40; stroke-linecap: round"/><circle cx="880" cy="560" r="55" style="fill: #333333"/></g>
<text x="7.3530" y="-0.1562" textLength="3.5112" lengthAdjust="spacingAndGlyphs" style="font-style: normal; font-size: 9.405px; font-family: 'Liberation Sans'; fill: #333333">(</text>
<text x="11.1827" y="-0.1562" textLength="2.8743" lengthAdjust="spacingAndGlyphs" style="font-style: normal; font-size: 9.405px; font-family: 'Liberation Sans'; fill: #333333">[</text>
<text x="14.3755" y="-0.1562" textLength="5.7261" lengthAdjust="spacingAndGlyphs" style="font-style: normal; font-size: 9.405px; font-family: 'Liberation Sans'; fill: #333333">0</text>
<text x="20.1015" y="-0.1562" textLength="2.8608" lengthAdjust="spacingAndGlyphs" style="font-style: normal; font-size: 9.405px; font-family: 'Liberation Sans'; fill: #333333">,</text>
<text x="24.7158" y="-0.1562" textLength="5.7261" lengthAdjust="spacingAndGlyphs" style="font-style: normal; font-size: 9.405px; font-family: 'Liberation Sans'; fill: #333333">2</text>
<text x="30.7603" y="-0.1562" textLength="2.8743" lengthAdjust="spacingAndGlyphs" style="font-style: normal; font-size: 9.405px; font-family: 'Liberation Sans'; fill: #333333">]</text>
<text x="33.9531" y="-0.1562" textLength="3.5112" lengthAdjust="spacingAndGlyphs" style="font-style: normal; font-size: 9.405px; font-family: 'Liberation Sans'; fill: #333333">)</text>
</g>
</g>
</g>
<g id="line2d_42">
<path d="M 77.2560 397.9440 L 86.6160 397.9440 L 95.2560 397.9440" style="fill: none; stroke: #ff6347; stroke-width: 2; stroke-linecap: round"/>
</g>
<g id="T43">
<g id="T43_0" transform="translate(0.7200 -1.0080)">
<!-- $\mathcal{E}(1)$ -->
<g style="fill: #333333" transform="translate(102.186 400.992)">
<g transform="translate(0.0000 -0.1719) scale(0.009000 -0.009000)"><path d="M 520 570 Q 480 660 300 650 Q 150 630 165 480 Q 185 350 300 335" style="fill: none; stroke: #262626; stroke-width: 62; stroke-linecap: round"/><path d="M 300 335 Q 40 310 45 140 Q 60 0 240 0 Q 420 0 520 90" style="fill: none; stroke: #262626; stroke-width: 70; stroke-linecap: round"/><circle cx="530" cy="555" r="48" style="fill: #333333"/></g>
<text x="4.9770" y="-0.1719" textLength="3.5112" lengthAdjust="spacingAndGlyphs" style="font-style: normal; font-size: 9.405px; font-family: 'Liberation Sans'; fill: #333333">(</text>
<text x="8.4882" y="-0.1719" textLength="5.7261" lengthAdjust="spacingAndGlyphs" style="font-style: normal; font-size: 9.405px; font-family: 'Liberation Sans'; fill: #333333">1</text>
<text x="14.2143" y="-0.1719" textLength="3.5112" lengthAdjust="spacingAndGlyphs" style="font-style: normal; font-size: 9.405px; font-family: 'Liberation Sans'; fill: #333333">)</text>
</g>
</g>
</g>
<g id="line2d_43">
<path d="M 77.2560 414.5040 L 86.6160 414.5040 L 95.2560 414.5040" style="fill: none; stroke: #ffd700; stroke-width: 2; stroke-linecap: round"/>
</g>
<g id="T44">
<g id="T44_0" transform="translate(0.5040 -0.5040)">
<!-- $\mathcal{N}(1,0.25)$ -->
<g style="fill: #333333" transform="translate(102.186 417.012)">
<g transform="translate(0.0000 -0.8438) scale(0.009000 -0.009000)"><path d="M 98 29 Q 150 30 220 250 Q 300 560 376 673" style="fill: none; stroke: #262626; stroke-width: 40; stroke-linecap: round"/><path d="M 376 673 L 742 -37" style="fill: none; stroke: #262626; stroke-width: 105; stroke-linecap: round"/><path d="M 742 -37 Q 850 400 1010 690" style="fill: none; stroke: #262626; stroke-width: 40; stroke-linecap: round"/><circle cx="98" cy="40" r="50" style="fill: #333333"/><circle cx="1040" cy="690" r="55" style="fill: #333333"/></g>
<text x="8.6130" y="-0.8438" textLength="3.5112" lengthAdjust="spacingAndGlyphs" style="font-style: normal; font-size: 9.405px; font-family: 'Liberation Sans'; fill: #333333">(</text>
<text x="12.1242" y="-0.8438" textLength="5.7261" lengthAdjust="spacingAndGlyphs" style="font-style: normal; font-size: 9.405px; font-family: 'Liberation Sans'; fill: #333333">1</text>
<text x="17.8503" y="-0.8438" textLength="2.8608" lengthAdjust="spacingAndGlyphs" style="font-style: normal; font-size: 9.405px; font-family: 'Liberation Sans'; fill: #333333">,</text>
<text x="22.4646" y="-0.8438" textLength="5.7261" lengthAdjust="spacingAndGlyphs" style="font-style: normal; font-size: 9.405px; font-family: 'Liberation Sans'; fill: #333333">0</text>
<text x="28.1906" y="-0.8438" textLength="2.8608" lengthAdjust="spacingAndGlyphs" style="font-style: normal; font-size: 9.405px; font-family: 'Liberation Sans'; fill: #333333">.</text>
<text x="30.5515" y="-0.8438" textLength="5.7261" lengthAdjust="spacingAndGlyphs" style="font-style: normal; font-size: 9.405px; font-family: 'Liberation Sans'; fill: #333333">2</text>
<text x="36.2775" y="-0.8438" textLength="5.7261" lengthAdjust="spacingAndGlyphs" style="font-style: normal; font-size: 9.405px; font-family: 'Liberation Sans'; fill: #333333">5</text>
<text x="42.0036" y="-0.8438" textLength="3.5112" lengthAdjust="spacingAndGlyphs" style="font-style: normal; font-size: 9.405px; font-family: 'Liberation Sans'; fill: #333333">)</text>
</g>
</g>
</g>
<g id="line2d_44">
<path d="M 77.2560 429.6240 L 86.6160 429.6240 L 95.2560 429.6240" style="fill: none; stroke: #008000; stroke-width: 2; stroke-linecap: round"/>
</g>
<g id="T45">
<g id="T45_0" transform="translate(0.5040 -0.5040)">
<!-- $\Gamma(2,1)$ -->
<g style="fill: #333333" transform="translate(102.186 432.312)">
<text x="0.0000" y="-0.1719" textLength="5.0142" lengthAdjust="spacingAndGlyphs" style="font-style: normal; font-size: 9.405px; font-family: 'Liberation Sans'; fill: #333333">Γ</text>
<text x="5.0142" y="-0.1719" textLength="3.5112" lengthAdjust="spacingAndGlyphs" style="font-style: normal; font-size: 9.405px; font-family: 'Liberation Sans'; fill: #333333">(</text>
<text x="8.5254" y="-0.1719" textLength="5.7261" lengthAdjust="spacingAndGlyphs" style="font-style: normal; font-size: 9.405px; font-family: 'Liberation Sans'; fill: #333333">2</text>
<text x="14.2515" y="-0.1719" textLength="2.8608" lengthAdjust="spacingAndGlyphs" style="font-style: normal; font-size: 9.405px; font-family: 'Liberation Sans'; fill: #333333">,</text>
<text x="18.8657" y="-0.1719" textLength="5.7261" lengthAdjust="spacingAndGlyphs" style="font-style: normal; font-size: 9.405px; font-family: 'Liberation Sans'; fill: #333333">1</text>
<text x="24.5918" y="-0.1719" textLength="3.5112" lengthAdjust="spacingAndGlyphs" style="font-style: normal; font-size: 9.405px; font-family: 'Liberation Sans'; fill: #333333">)</text>
</g>
</g>
</g>
</g>
</g>
<g id="axes_3">
<g id="patch_14">
<path d="M 68.886 954.324 L 629.964 954.324 L 629.964 707.208 L 68.886 707.208 z
" style="fill: #ffffff"/>
</g>
<g id="matplotlib.axis_5">
<g id="xtick_13">
<g id="line2d_45">
<path d="M 94.5360 954.5040 L 94.5360 707.5440" clip-path="url(#p8ad40d5c7a)" style="fill: none; stroke: #cccccc; stroke-linecap: round"/>
</g>
<g id="T50">
<g id="T50_0" transform="translate(-0.5400 0.5040)">
<text style="font-size: 12.644px; font-family: 'Liberation Sans', sans-serif; text-anchor: middle; fill: #161616" x="94.389545" y="973.904" transform="rotate(-0 94.389545 973.904)" textLength="17.861" lengthAdjust="spacingAndGlyphs">0.0</text>
</g>
</g>
</g>
<g id="xtick_14">
<g id="line2d_46">
<path d="M 179.4960 954.5040 L 179.4960 707.5440" clip-path="url(#p8ad40d5c7a)" style="fill: none; stroke: #cccccc; stroke-linecap: round"/>
</g>
<g id="T51">
<g id="T51_0" transform="translate(-0.5400 0.5040)">
<text style="font-size: 12.644px; font-family: 'Liberation Sans', sans-serif; text-anchor: middle; fill: #2a2a2a" x="179.401364" y="973.904" transform="rotate(-0 179.401364 973.904)" textLength="17.861" lengthAdjust="spacingAndGlyphs">0.5</text>
</g>
</g>
</g>
<g id="xtick_15">
<g id="line2d_47">
<path d="M 264.4560 954.5040 L 264.4560 707.5440" clip-path="url(#p8ad40d5c7a)" style="fill: none; stroke: #cccccc; stroke-linecap: round"/>
</g>
<g id="T52">
<g id="T52_0" transform="translate(0.2520 0.5040)">
<text style="font-size: 12.644px; font-family: 'Liberation Sans', sans-serif; text-anchor: middle; fill: #171717" x="264.413182" y="973.904" transform="rotate(-0 264.413182 973.904)" textLength="17.367" lengthAdjust="spacingAndGlyphs">1.0</text>
</g>
</g>
</g>
<g id="xtick_16">
<g id="line2d_48">
<path d="M 350.1360 954.5040 L 350.1360 707.5440" clip-path="url(#p8ad40d5c7a)" style="fill: none; stroke: #cccccc; stroke-linecap: round"/>
</g>
<g id="T53">
<g id="T53_0" transform="translate(0.2160 0.5040)">
<text style="font-size: 12.644px; font-family: 'Liberation Sans', sans-serif; text-anchor: middle; fill: #323232" x="349.425" y="973.904" transform="rotate(-0 349.425 973.904)" textLength="17.804" lengthAdjust="spacingAndGlyphs">1.5</text>
</g>
</g>
</g>
<g id="xtick_17">
<g id="line2d_49">
<path d="M 435.0960 954.5040 L 435.0960 707.5440" clip-path="url(#p8ad40d5c7a)" style="fill: none; stroke: #cccccc; stroke-linecap: round"/>
</g>
<g id="T54">
<g id="T54_0" transform="translate(-0.0360 0.5040)">
<text style="font-size: 12.644px; font-family: 'Liberation Sans', sans-serif; text-anchor: middle; fill: #252525" x="434.436818" y="973.904" transform="rotate(-0 434.436818 973.904)" textLength="17.861" lengthAdjust="spacingAndGlyphs">2.0</text>
</g>
</g>
</g>
<g id="xtick_18">
<g id="line2d_50">
<path d="M 520.0560 954.5040 L 520.0560 707.5440" clip-path="url(#p8ad40d5c7a)" style="fill: none; stroke: #cccccc; stroke-linecap: round"/>
</g>
<g id="T55">
<g id="T55_0" transform="translate(-0.0360 0.5040)">
<text style="font-size: 12.644px; font-family: 'Liberation Sans', sans-serif; text-anchor: middle; fill: #363636" x="519.448636" y="973.904" transform="rotate(-0 519.448636 973.904)" textLength="17.861" lengthAdjust="spacingAndGlyphs">2.5</text>
</g>
</g>
</g>
<g id="xtick_19">
<g id="line2d_51">
<path d="M 605.0160 954.5040 L 605.0160 707.5440" clip-path="url(#p8ad40d5c7a)" style="fill: none; stroke: #cccccc; stroke-linecap: round"/>
</g>
<g id="T56">
<g id="T56_0" transform="translate(-0.2520 0.5040)">
<text style="font-size: 12.644px; font-family: 'Liberation Sans', sans-serif; text-anchor: middle; fill: #2f2f2f" x="604.460455" y="973.904" transform="rotate(-0 604.460455 973.904)" textLength="18.319" lengthAdjust="spacingAndGlyphs">3.0</text>
</g>
</g>
</g>
<g id="T48">
<g id="T48_0" transform="translate(0.5040 0.5040)">
<!-- $r$ -->
<g style="fill: #333333" transform="translate(345.645 990.864)">
<text x="0.1870" y="-0.7188" textLength="5.0529" lengthAdjust="spacingAndGlyphs" style="font-style: italic; font-size: 13.794px; font-family: 'Liberation Sans'; fill: #333333">r</text>
</g>
</g>
</g>
</g>
<g id="matplotlib.axis_6">
<g id="ytick_16">
<g id="line2d_52">
<path d="M 69.3360 943.7040 L 630.2160 943.7040" clip-path="url(#p8ad40d5c7a)" style="fill: none; stroke: #cccccc; stroke-linecap: round"/>
</g>
<g id="T60">
<g id="T60_0" transform="translate(-1.1880 0.0000)">
<text style="font-size: 12.644px; font-family: 'Liberation Sans', sans-serif; text-anchor: end; fill: #0f0f0f" x="59.386" y="948.131455" transform="rotate(-0 59.386 948.131455)" textLength="17.415" lengthAdjust="spacingAndGlyphs">0.0</text>
</g>
</g>
</g>
<g id="ytick_17">
<g id="line2d_53">
<path d="M 69.3360 907.7040 L 630.2160 907.7040" clip-path="url(#p8ad40d5c7a)" style="fill: none; stroke: #cccccc; stroke-linecap: round"/>
</g>
<g id="T61">
<g id="T61_0" transform="translate(-1.1880 0.0000)">
<text style="font-size: 12.644px; font-family: 'Liberation Sans', sans-serif; text-anchor: end; fill: #242424" x="59.386" y="912.372739" transform="rotate(-0 59.386 912.372739)" textLength="17.415" lengthAdjust="spacingAndGlyphs">0.5</text>
</g>
</g>
</g>
<g id="ytick_18">
<g id="line2d_54">
<path d="M 69.3360 871.7040 L 630.2160 871.7040" clip-path="url(#p8ad40d5c7a)" style="fill: none; stroke: #cccccc; stroke-linecap: round"/>
</g>
<g id="T62">
<g id="T62_0" transform="translate(-0.6120 0.5040)">
<text style="font-size: 12.644px; font-family: 'Liberation Sans', sans-serif; text-anchor: end; fill: #161616" x="59.386" y="876.614023" transform="rotate(-0 59.386 876.614023)" textLength="17.339" lengthAdjust="spacingAndGlyphs">1.0</text>
</g>
</g>
</g>
<g id="ytick_19">
<g id="line2d_55">
<path d="M 69.3360 836.4240 L 630.2160 836.4240" clip-path="url(#p8ad40d5c7a)" style="fill: none; stroke: #cccccc; stroke-linecap: round"/>
</g>
<g id="T63">
<g id="T63_0" transform="translate(-0.6120 0.0000)">
<text style="font-size: 12.644px; font-family: 'Liberation Sans', sans-serif; text-anchor: end; fill: #2c2c2c" x="59.386" y="840.855308" transform="rotate(-0 59.386 840.855308)" textLength="17.339" lengthAdjust="spacingAndGlyphs">1.5</text>
</g>
</g>
</g>
<g id="ytick_20">
<g id="line2d_56">
<path d="M 69.3360 800.4240 L 630.2160 800.4240" clip-path="url(#p8ad40d5c7a)" style="fill: none; stroke: #cccccc; stroke-linecap: round"/>
</g>
<g id="T64">
<g id="T64_0" transform="translate(-1.4040 0.0000)">
<text style="font-size: 12.644px; font-family: 'Liberation Sans', sans-serif; text-anchor: end; fill: #252525" x="59.386" y="805.096592" transform="rotate(-0 59.386 805.096592)" textLength="17.890" lengthAdjust="spacingAndGlyphs">2.0</text>
</g>
</g>
</g>
<g id="ytick_21">
<g id="line2d_57">
<path d="M 69.3360 764.4240 L 630.2160 764.4240" clip-path="url(#p8ad40d5c7a)" style="fill: none; stroke: #cccccc; stroke-linecap: round"/>
</g>
<g id="T65">
<g id="T65_0" transform="translate(-0.3960 0.5040)">
<text style="font-size: 12.644px; font-family: 'Liberation Sans', sans-serif; text-anchor: end; fill: #363636" x="59.386" y="769.337876" transform="rotate(-0 59.386 769.337876)" textLength="17.861" lengthAdjust="spacingAndGlyphs">2.5</text>
</g>
</g>
</g>
<g id="ytick_22">
<g id="line2d_58">
<path d="M 69.3360 729.1440 L 630.2160 729.1440" clip-path="url(#p8ad40d5c7a)" style="fill: none; stroke: #cccccc; stroke-linecap: round"/>
</g>
<g id="T66">
<g id="T66_0" transform="translate(-1.4040 0.0000)">
<text style="font-size: 12.644px; font-family: 'Liberation Sans', sans-serif; text-anchor: end; fill: #2a2a2a" x="59.386" y="733.579161" transform="rotate(-0 59.386 733.579161)" textLength="17.890" lengthAdjust="spacingAndGlyphs">3.0</text>
</g>
</g>
</g>
<g id="T58">
<g id="T58_0" transform="translate(-0.7560 1.0080)">
<text style="font-size: 13.794px; font-family: 'Liberation Sans', sans-serif; text-anchor: middle; fill: #333333" x="33.426" y="830.766" transform="rotate(-90 33.426 830.766)" textLength="41.677" lengthAdjust="spacingAndGlyphs">Valeur</text>
</g>
</g>
</g>
<g id="FillBetweenPolyCollection_1">

<g clip-path="url(#p8ad40d5c7a)">
<path transform="translate(0 1008)" d="M 94.389545 -64.908545 L 94.389545 -64.908545 L 95.411732 -67.609995 L 96.433918 -70.310858 L 97.456104 -73.01055 L 98.47829 -75.708485 L 99.500476 -78.404079 L 100.522663 -81.096748 L 101.544849 -83.78591 L 102.567035 -86.470982 L 103.589221 -89.151386 L 104.611407 -91.826543 L 105.633594 -94.495877 L 106.65578 -97.158813 L 107.677966 -99.814779 L 108.700152 -102.463206 L 109.722338 -105.103528 L 110.744525 -107.73518 L 111.766711 -110.357603 L 112.788897 -112.970237 L 113.811083 -115.572531 L 114.833269 -118.163933 L 115.855455 -120.743897 L 116.877642 -123.311882 L 117.899828 -125.867349 L 118.922014 -128.409765 L 119.9442 -130.938601 L 120.966386 -133.453334 L 121.988573 -135.953444 L 123.010759 -138.438418 L 124.032945 -140.907747 L 125.055131 -143.360929 L 126.077317 -145.797467 L 127.099504 -148.21687 L 128.12169 -150.618652 L 129.143876 -153.002335 L 130.166062 -155.367445 L 131.188248 -157.713518 L 132.210435 -160.040094 L 133.232621 -162.34672 L 134.254807 -164.632951 L 135.276993 -166.898348 L 136.299179 -169.14248 L 137.321365 -171.364924 L 138.343552 -173.565263 L 139.365738 -175.743088 L 140.387924 -177.897999 L 141.41011 -180.029603 L 142.432296 -182.137514 L 143.454483 -184.221357 L 144.476669 -186.280761 L 145.498855 -188.315368 L 146.521041 -190.324824 L 147.543227 -192.308788 L 148.565414 -194.266923 L 149.5876 -196.198905 L 150.609786 -198.104415 L 151.631972 -199.983146 L 152.654158 -201.834798 L 153.676345 -203.659081 L 154.698531 -205.455713 L 155.720717 -207.224423 L 156.742903 -208.964947 L 157.765089 -210.677032 L 158.787275 -212.360434 L 159.809462 -214.014918 L 160.831648 -215.640257 L 161.853834 -217.236237 L 162.87602 -218.80265 L 163.898206 -220.339299 L 164.920393 -221.845998 L 165.942579 -223.322567 L 166.964765 -224.768838 L 167.986951 -226.184653 L 169.009137 -227.569863 L 170.031324 -228.924327 L 171.05351 -230.247916 L 172.075696 -231.540509 L 173.097882 -232.801995 L 174.120068 -234.032274 L 175.142255 -235.231253 L 176.164441 -236.398851 L 177.186627 -237.534994 L 178.208813 -238.639619 L 179.230999 -239.712674 L 180.253185 -240.754113 L 181.275372 -241.763901 L 182.297558 -242.742014 L 183.319744 -243.688434 L 184.34193 -244.603155 L 185.364116 -245.486179 L 186.386303 -246.337517 L 187.408489 -247.157189 L 188.430675 -247.945225 L 189.452861 -248.701663 L 190.475047 -249.42655 L 191.497234 -250.119942 L 192.51942 -250.781903 L 193.541606 -251.412507 L 194.563792 -252.011835 L 195.585978 -252.579978 L 196.608165 -253.117034 L 197.630351 -253.623109 L 198.652537 -254.098319 L 199.674723 -254.542787 L 200.696909 -254.956643 L 201.719095 -255.340026 L 202.741282 -255.693083 L 203.763468 -256.015968 L 204.785654 -256.308843 L 205.80784 -256.571876 L 206.830026 -256.805244 L 207.852213 -257.00913 L 208.874399 -257.183725 L 209.896585 -257.329227 L 210.918771 -257.445839 L 211.940957 -257.533773 L 212.963144 -257.593245 L 213.98533 -257.62448 L 215.007516 -257.627708 L 216.029702 -257.603164 L 217.051888 -257.551091 L 218.074075 -257.471738 L 219.096261 -257.365357 L 220.118447 -257.232209 L 221.140633 -257.072557 L 222.162819 -256.886672 L 223.185005 -256.674829 L 224.207192 -256.437309 L 225.229378 -256.174395 L 226.251564 -255.886379 L 227.27375 -255.573553 L 228.295936 -255.236218 L 229.318123 -254.874675 L 230.340309 -254.489233 L 231.362495 -254.080201 L 232.384681 -253.647894 L 233.406867 -253.192632 L 234.429054 -252.714737 L 235.45124 -252.214532 L 236.473426 -251.692348 L 237.495612 -251.148516 L 238.517798 -250.58337 L 239.539985 -249.997247 L 240.562171 -249.390489 L 241.584357 -248.763436 L 242.606543 -248.116434 L 243.628729 -247.449829 L 244.650915 -246.763971 L 245.673102 -246.059209 L 246.695288 -245.335898 L 247.717474 -244.594391 L 248.73966 -243.835042 L 249.761846 -243.05821 L 250.784033 -242.264252 L 251.806219 -241.453527 L 252.828405 -240.626395 L 253.850591 -239.783217 L 254.872777 -238.924353 L 255.894964 -238.050166 L 256.91715 -237.161017 L 257.939336 -236.257269 L 258.961522 -235.339284 L 259.983708 -234.407423 L 261.005895 -233.462049 L 262.028081 -232.503524 L 263.050267 -231.532208 L 264.072453 -230.548463 L 265.094639 -229.552648 L 266.116825 -228.545122 L 267.139012 -227.526243 L 268.161198 -226.496369 L 269.183384 -225.455855 L 270.20557 -224.405055 L 271.227756 -223.344324 L 272.249943 -222.274012 L 273.272129 -221.19447 L 274.294315 -220.106047 L 275.316501 -219.009087 L 276.338687 -217.903937 L 277.360874 -216.790939 L 278.38306 -215.670433 L 279.405246 -214.542758 L 280.427432 -213.408248 L 281.449618 -212.267239 L 282.471805 -211.12006 L 283.493991 -209.96704 L 284.516177 -208.808506 L 285.538363 -207.644779 L 286.560549 -206.476181 L 287.582735 -205.303028 L 288.604922 -204.125635 L 289.627108 -202.944313 L 290.649294 -201.75937 L 291.67148 -200.571112 L 292.693666 -199.379839 L 293.715853 -198.185851 L 294.738039 -196.989442 L 295.760225 -195.790904 L 296.782411 -194.590526 L 297.804597 -193.38859 L 298.826784 -192.18538 L 299.84897 -190.981171 L 300.871156 -189.776238 L 301.893342 -188.570851 L 302.915528 -187.365275 L 303.937715 -186.159772 L 304.959901 -184.954602 L 305.982087 -183.750019 L 307.004273 -182.546273 L 308.026459 -181.343611 L 309.048645 -180.142276 L 310.070832 -178.942505 L 311.093018 -177.744535 L 312.115204 -176.548595 L 313.13739 -175.354911 L 314.159576 -174.163707 L 315.181763 -172.9752 L 316.203949 -171.789604 L 317.226135 -170.607129 L 318.248321 -169.427981 L 319.270507 -168.252362 L 320.292694 -167.080469 L 321.31488 -165.912494 L 322.337066 -164.748628 L 323.359252 -163.589054 L 324.381438 -162.433954 L 325.403625 -161.283504 L 326.425811 -160.137877 L 327.447997 -158.997239 L 328.470183 -157.861756 L 329.492369 -156.731587 L 330.514555 -155.606888 L 331.536742 -154.48781 L 332.558928 -153.374501 L 333.581114 -152.267104 L 334.6033 -151.165757 L 335.625486 -150.070597 L 336.647673 -148.981754 L 337.669859 -147.899355 L 338.692045 -146.823524 L 339.714231 -145.754379 L 340.736417 -144.692035 L 341.758604 -143.636604 L 342.78079 -142.588193 L 343.802976 -141.546905 L 344.825162 -140.51284 L 345.847348 -139.486093 L 346.869535 -138.466757 L 347.891721 -137.45492 L 348.913907 -136.450666 L 349.936093 -135.454076 L 350.958279 -134.465227 L 351.980465 -133.484193 L 353.002652 -132.511044 L 354.024838 -131.545846 L 355.047024 -130.588663 L 356.06921 -129.639554 L 357.091396 -128.698574 L 358.113583 -127.765778 L 359.135769 -126.841215 L 360.157955 -125.92493 L 361.180141 -125.016967 L 362.202327 -124.117365 L 363.224514 -123.226161 L 364.2467 -122.34339 L 365.268886 -121.46908 L 366.291072 -120.603261 L 367.313258 -119.745956 L 368.335445 -118.897187 L 369.357631 -118.056973 L 370.379817 -117.22533 L 371.402003 -116.402272 L 372.424189 -115.587808 L 373.446375 -114.781946 L 374.468562 -113.984693 L 375.490748 -113.19605 L 376.512934 -112.416017 L 377.53512 -111.644593 L 378.557306 -110.881773 L 379.579493 -110.127549 L 380.601679 -109.381913 L 381.623865 -108.644851 L 382.646051 -107.916352 L 383.668237 -107.196398 L 384.690424 -106.484971 L 385.71261 -105.782051 L 386.734796 -105.087616 L 387.756982 -104.401642 L 388.779168 -103.724101 L 389.801355 -103.054967 L 390.823541 -102.394209 L 391.845727 -101.741796 L 392.867913 -101.097695 L 393.890099 -100.461869 L 394.912285 -99.834283 L 395.934472 -99.214898 L 396.956658 -98.603674 L 397.978844 -98.00057 L 399.00103 -97.405544 L 400.023216 -96.81855 L 401.045403 -96.239544 L 402.067589 -95.668478 L 403.089775 -95.105305 L 404.111961 -94.549975 L 405.134147 -94.002437 L 406.156334 -93.46264 L 407.17852 -92.930532 L 408.200706 -92.406058 L 409.222892 -91.889163 L 410.245078 -91.379793 L 411.267265 -90.877889 L 412.289451 -90.383395 L 413.311637 -89.896252 L 414.333823 -89.416401 L 415.356009 -88.943782 L 416.378195 -88.478334 L 417.400382 -88.019996 L 418.422568 -87.568705 L 419.444754 -87.1244 L 420.46694 -86.687016 L 421.489126 -86.256491 L 422.511313 -85.83276 L 423.533499 -85.415757 L 424.555685 -85.005418 L 425.577871 -84.601678 L 426.600057 -84.20447 L 427.622244 -83.813728 L 428.64443 -83.429385 L 429.666616 -83.051374 L 430.688802 -82.679629 L 431.710988 -82.314082 L 432.733175 -81.954665 L 433.755361 -81.601311 L 434.777547 -81.253952 L 435.799733 -80.91252 L 436.821919 -80.576946 L 437.844105 -80.247164 L 438.866292 -79.923104 L 439.888478 -79.604698 L 440.910664 -79.291879 L 441.93285 -78.984579 L 442.955036 -78.682729 L 443.977223 -78.386262 L 444.999409 -78.09511 L 446.021595 -77.809206 L 447.043781 -77.528481 L 448.065967 -77.252869 L 449.088154 -76.982302 L 450.11034 -76.716714 L 451.132526 -76.456038 L 452.154712 -76.200207 L 453.176898 -75.949156 L 454.199085 -75.702819 L 455.221271 -75.461131 L 456.243457 -75.224025 L 457.265643 -74.991437 L 458.287829 -74.763303 L 459.310015 -74.539558 L 460.332202 -74.320139 L 461.354388 -74.104983 L 462.376574 -73.894026 L 463.39876 -73.687205 L 464.420946 -73.48446 L 465.443133 -73.285727 L 466.465319 -73.090946 L 467.487505 -72.900055 L 468.509691 -72.712996 L 469.531877 -72.529707 L 470.554064 -72.350129 L 471.57625 -72.174204 L 472.598436 -72.001873 L 473.620622 -71.833078 L 474.642808 -71.667763 L 475.664995 -71.505869 L 476.687181 -71.347341 L 477.709367 -71.192124 L 478.731553 -71.040161 L 479.753739 -70.891398 L 480.775925 -70.745782 L 481.798112 -70.603258 L 482.820298 -70.463774 L 483.842484 -70.327277 L 484.86467 -70.193716 L 485.886856 -70.063038 L 486.909043 -69.935194 L 487.931229 -69.810133 L 488.953415 -69.687806 L 489.975601 -69.568164 L 490.997787 -69.451158 L 492.019974 -69.33674 L 493.04216 -69.224864 L 494.064346 -69.115483 L 495.086532 -69.00855 L 496.108718 -68.904021 L 497.130905 -68.801849 L 498.153091 -68.701992 L 499.175277 -68.604405 L 500.197463 -68.509046 L 501.219649 -68.415871 L 502.241835 -68.324838 L 503.264022 -68.235907 L 504.286208 -68.149037 L 505.308394 -68.064186 L 506.33058 -67.981317 L 507.352766 -67.900388 L 508.374953 -67.821363 L 509.397139 -67.744203 L 510.419325 -67.668871 L 511.441511 -67.595329 L 512.463697 -67.523542 L 513.485884 -67.453474 L 514.50807 -67.385089 L 515.530256 -67.318354 L 516.552442 -67.253233 L 517.574628 -67.189694 L 518.596815 -67.127704 L 519.619001 -67.067229 L 520.641187 -67.008239 L 521.663373 -66.950701 L 522.685559 -66.894585 L 523.707745 -66.839861 L 524.729932 -66.786497 L 525.752118 -66.734467 L 526.774304 -66.683739 L 527.79649 -66.634286 L 528.818676 -66.58608 L 529.840863 -66.539094 L 530.863049 -66.493301 L 531.885235 -66.448674 L 532.907421 -66.405187 L 533.929607 -66.362815 L 534.951794 -66.321533 L 535.97398 -66.281317 L 536.996166 -66.242141 L 538.018352 -66.203983 L 539.040538 -66.166818 L 540.062725 -66.130626 L 541.084911 -66.095382 L 542.107097 -66.061065 L 543.129283 -66.027654 L 544.151469 -65.995127 L 545.173655 -65.963464 L 546.195842 -65.932645 L 547.218028 -65.902648 L 548.240214 -65.873456 L 549.2624 -65.845048 L 550.284586 -65.817407 L 551.306773 -65.790513 L 552.328959 -65.764349 L 553.351145 -65.738897 L 554.373331 -65.714139 L 555.395517 -65.69006 L 556.417704 -65.666641 L 557.43989 -65.643868 L 558.462076 -65.621723 L 559.484262 -65.600193 L 560.506448 -65.57926 L 561.528635 -65.558911 L 562.550821 -65.539131 L 563.573007 -65.519905 L 564.595193 -65.501219 L 565.617379 -65.483061 L 566.639565 -65.465416 L 567.661752 -65.448271 L 568.683938 -65.431614 L 569.706124 -65.415432 L 570.72831 -65.399713 L 571.750496 -65.384444 L 572.772683 -65.369615 L 573.794869 -65.355214 L 574.817055 -65.341229 L 575.839241 -65.32765 L 576.861427 -65.314466 L 577.883614 -65.301666 L 578.9058 -65.289241 L 579.927986 -65.27718 L 580.950172 -65.265474 L 581.972358 -65.254113 L 582.994545 -65.243089 L 584.016731 -65.232391 L 585.038917 -65.222011 L 586.061103 -65.21194 L 587.083289 -65.202171 L 588.105475 -65.192694 L 589.127662 -65.183502 L 590.149848 -65.174587 L 591.172034 -65.165942 L 592.19422 -65.157558 L 593.216406 -65.149429 L 594.238593 -65.141548 L 595.260779 -65.133907 L 596.282965 -65.1265 L 597.305151 -65.119321 L 598.327337 -65.112362 L 599.349524 -65.105618 L 600.37171 -65.099083 L 601.393896 -65.09275 L 602.416082 -65.086614 L 603.438268 -65.08067 L 604.460455 -65.074911 L 604.460455 -64.908545 L 604.460455 -64.908545 L 603.438268 -64.908545 L 602.416082 -64.908545 L 601.393896 -64.908545 L 600.37171 -64.908545 L 599.349524 -64.908545 L 598.327337 -64.908545 L 597.305151 -64.908545 L 596.282965 -64.908545 L 595.260779 -64.908545 L 594.238593 -64.908545 L 593.216406 -64.908545 L 592.19422 -64.908545 L 591.172034 -64.908545 L 590.149848 -64.908545 L 589.127662 -64.908545 L 588.105475 -64.908545 L 587.083289 -64.908545 L 586.061103 -64.908545 L 585.038917 -64.908545 L 584.016731 -64.908545 L 582.994545 -64.908545 L 581.972358 -64.908545 L 580.950172 -64.908545 L 579.927986 -64.908545 L 578.9058 -64.908545 L 577.883614 -64.908545 L 576.861427 -64.908545 L 575.839241 -64.908545 L 574.817055 -64.908545 L 573.794869 -64.908545 L 572.772683 -64.908545 L 571.750496 -64.908545 L 570.72831 -64.908545 L 569.706124 -64.908545 L 568.683938 -64.908545 L 567.661752 -64.908545 L 566.639565 -64.908545 L 565.617379 -64.908545 L 564.595193 -64.908545 L 563.573007 -64.908545 L 562.550821 -64.908545 L 561.528635 -64.908545 L 560.506448 -64.908545 L 559.484262 -64.908545 L 558.462076 -64.908545 L 557.43989 -64.908545 L 556.417704 -64.908545 L 555.395517 -64.908545 L 554.373331 -64.908545 L 553.351145 -64.908545 L 552.328959 -64.908545 L 551.306773 -64.908545 L 550.284586 -64.908545 L 549.2624 -64.908545 L 548.240214 -64.908545 L 547.218028 -64.908545 L 546.195842 -64.908545 L 545.173655 -64.908545 L 544.151469 -64.908545 L 543.129283 -64.908545 L 542.107097 -64.908545 L 541.084911 -64.908545 L 540.062725 -64.908545 L 539.040538 -64.908545 L 538.018352 -64.908545 L 536.996166 -64.908545 L 535.97398 -64.908545 L 534.951794 -64.908545 L 533.929607 -64.908545 L 532.907421 -64.908545 L 531.885235 -64.908545 L 530.863049 -64.908545 L 529.840863 -64.908545 L 528.818676 -64.908545 L 527.79649 -64.908545 L 526.774304 -64.908545 L 525.752118 -64.908545 L 524.729932 -64.908545 L 523.707745 -64.908545 L 522.685559 -64.908545 L 521.663373 -64.908545 L 520.641187 -64.908545 L 519.619001 -64.908545 L 518.596815 -64.908545 L 517.574628 -64.908545 L 516.552442 -64.908545 L 515.530256 -64.908545 L 514.50807 -64.908545 L 513.485884 -64.908545 L 512.463697 -64.908545 L 511.441511 -64.908545 L 510.419325 -64.908545 L 509.397139 -64.908545 L 508.374953 -64.908545 L 507.352766 -64.908545 L 506.33058 -64.908545 L 505.308394 -64.908545 L 504.286208 -64.908545 L 503.264022 -64.908545 L 502.241835 -64.908545 L 501.219649 -64.908545 L 500.197463 -64.908545 L 499.175277 -64.908545 L 498.153091 -64.908545 L 497.130905 -64.908545 L 496.108718 -64.908545 L 495.086532 -64.908545 L 494.064346 -64.908545 L 493.04216 -64.908545 L 492.019974 -64.908545 L 490.997787 -64.908545 L 489.975601 -64.908545 L 488.953415 -64.908545 L 487.931229 -64.908545 L 486.909043 -64.908545 L 485.886856 -64.908545 L 484.86467 -64.908545 L 483.842484 -64.908545 L 482.820298 -64.908545 L 481.798112 -64.908545 L 480.775925 -64.908545 L 479.753739 -64.908545 L 478.731553 -64.908545 L 477.709367 -64.908545 L 476.687181 -64.908545 L 475.664995 -64.908545 L 474.642808 -64.908545 L 473.620622 -64.908545 L 472.598436 -64.908545 L 471.57625 -64.908545 L 470.554064 -64.908545 L 469.531877 -64.908545 L 468.509691 -64.908545 L 467.487505 -64.908545 L 466.465319 -64.908545 L 465.443133 -64.908545 L 464.420946 -64.908545 L 463.39876 -64.908545 L 462.376574 -64.908545 L 461.354388 -64.908545 L 460.332202 -64.908545 L 459.310015 -64.908545 L 458.287829 -64.908545 L 457.265643 -64.908545 L 456.243457 -64.908545 L 455.221271 -64.908545 L 454.199085 -64.908545 L 453.176898 -64.908545 L 452.154712 -64.908545 L 451.132526 -64.908545 L 450.11034 -64.908545 L 449.088154 -64.908545 L 448.065967 -64.908545 L 447.043781 -64.908545 L 446.021595 -64.908545 L 444.999409 -64.908545 L 443.977223 -64.908545 L 442.955036 -64.908545 L 441.93285 -64.908545 L 440.910664 -64.908545 L 439.888478 -64.908545 L 438.866292 -64.908545 L 437.844105 -64.908545 L 436.821919 -64.908545 L 435.799733 -64.908545 L 434.777547 -64.908545 L 433.755361 -64.908545 L 432.733175 -64.908545 L 431.710988 -64.908545 L 430.688802 -64.908545 L 429.666616 -64.908545 L 428.64443 -64.908545 L 427.622244 -64.908545 L 426.600057 -64.908545 L 425.577871 -64.908545 L 424.555685 -64.908545 L 423.533499 -64.908545 L 422.511313 -64.908545 L 421.489126 -64.908545 L 420.46694 -64.908545 L 419.444754 -64.908545 L 418.422568 -64.908545 L 417.400382 -64.908545 L 416.378195 -64.908545 L 415.356009 -64.908545 L 414.333823 -64.908545 L 413.311637 -64.908545 L 412.289451 -64.908545 L 411.267265 -64.908545 L 410.245078 -64.908545 L 409.222892 -64.908545 L 408.200706 -64.908545 L 407.17852 -64.908545 L 406.156334 -64.908545 L 405.134147 -64.908545 L 404.111961 -64.908545 L 403.089775 -64.908545 L 402.067589 -64.908545 L 401.045403 -64.908545 L 400.023216 -64.908545 L 399.00103 -64.908545 L 397.978844 -64.908545 L 396.956658 -64.908545 L 395.934472 -64.908545 L 394.912285 -64.908545 L 393.890099 -64.908545 L 392.867913 -64.908545 L 391.845727 -64.908545 L 390.823541 -64.908545 L 389.801355 -64.908545 L 388.779168 -64.908545 L 387.756982 -64.908545 L 386.734796 -64.908545 L 385.71261 -64.908545 L 384.690424 -64.908545 L 383.668237 -64.908545 L 382.646051 -64.908545 L 381.623865 -64.908545 L 380.601679 -64.908545 L 379.579493 -64.908545 L 378.557306 -64.908545 L 377.53512 -64.908545 L 376.512934 -64.908545 L 375.490748 -64.908545 L 374.468562 -64.908545 L 373.446375 -64.908545 L 372.424189 -64.908545 L 371.402003 -64.908545 L 370.379817 -64.908545 L 369.357631 -64.908545 L 368.335445 -64.908545 L 367.313258 -64.908545 L 366.291072 -64.908545 L 365.268886 -64.908545 L 364.2467 -64.908545 L 363.224514 -64.908545 L 362.202327 -64.908545 L 361.180141 -64.908545 L 360.157955 -64.908545 L 359.135769 -64.908545 L 358.113583 -64.908545 L 357.091396 -64.908545 L 356.06921 -64.908545 L 355.047024 -64.908545 L 354.024838 -64.908545 L 353.002652 -64.908545 L 351.980465 -64.908545 L 350.958279 -64.908545 L 349.936093 -64.908545 L 348.913907 -64.908545 L 347.891721 -64.908545 L 346.869535 -64.908545 L 345.847348 -64.908545 L 344.825162 -64.908545 L 343.802976 -64.908545 L 342.78079 -64.908545 L 341.758604 -64.908545 L 340.736417 -64.908545 L 339.714231 -64.908545 L 338.692045 -64.908545 L 337.669859 -64.908545 L 336.647673 -64.908545 L 335.625486 -64.908545 L 334.6033 -64.908545 L 333.581114 -64.908545 L 332.558928 -64.908545 L 331.536742 -64.908545 L 330.514555 -64.908545 L 329.492369 -64.908545 L 328.470183 -64.908545 L 327.447997 -64.908545 L 326.425811 -64.908545 L 325.403625 -64.908545 L 324.381438 -64.908545 L 323.359252 -64.908545 L 322.337066 -64.908545 L 321.31488 -64.908545 L 320.292694 -64.908545 L 319.270507 -64.908545 L 318.248321 -64.908545 L 317.226135 -64.908545 L 316.203949 -64.908545 L 315.181763 -64.908545 L 314.159576 -64.908545 L 313.13739 -64.908545 L 312.115204 -64.908545 L 311.093018 -64.908545 L 310.070832 -64.908545 L 309.048645 -64.908545 L 308.026459 -64.908545 L 307.004273 -64.908545 L 305.982087 -64.908545 L 304.959901 -64.908545 L 303.937715 -64.908545 L 302.915528 -64.908545 L 301.893342 -64.908545 L 300.871156 -64.908545 L 299.84897 -64.908545 L 298.826784 -64.908545 L 297.804597 -64.908545 L 296.782411 -64.908545 L 295.760225 -64.908545 L 294.738039 -64.908545 L 293.715853 -64.908545 L 292.693666 -64.908545 L 291.67148 -64.908545 L 290.649294 -64.908545 L 289.627108 -64.908545 L 288.604922 -64.908545 L 287.582735 -64.908545 L 286.560549 -64.908545 L 285.538363 -64.908545 L 284.516177 -64.908545 L 283.493991 -64.908545 L 282.471805 -64.908545 L 281.449618 -64.908545 L 280.427432 -64.908545 L 279.405246 -64.908545 L 278.38306 -64.908545 L 277.360874 -64.908545 L 276.338687 -64.908545 L 275.316501 -64.908545 L 274.294315 -64.908545 L 273.272129 -64.908545 L 272.249943 -64.908545 L 271.227756 -64.908545 L 270.20557 -64.908545 L 269.183384 -64.908545 L 268.161198 -64.908545 L 267.139012 -64.908545 L 266.116825 -64.908545 L 265.094639 -64.908545 L 264.072453 -64.908545 L 263.050267 -64.908545 L 262.028081 -64.908545 L 261.005895 -64.908545 L 259.983708 -64.908545 L 258.961522 -64.908545 L 257.939336 -64.908545 L 256.91715 -64.908545 L 255.894964 -64.908545 L 254.872777 -64.908545 L 253.850591 -64.908545 L 252.828405 -64.908545 L 251.806219 -64.908545 L 250.784033 -64.908545 L 249.761846 -64.908545 L 248.73966 -64.908545 L 247.717474 -64.908545 L 246.695288 -64.908545 L 245.673102 -64.908545 L 244.650915 -64.908545 L 243.628729 -64.908545 L 242.606543 -64.908545 L 241.584357 -64.908545 L 240.562171 -64.908545 L 239.539985 -64.908545 L 238.517798 -64.908545 L 237.495612 -64.908545 L 236.473426 -64.908545 L 235.45124 -64.908545 L 234.429054 -64.908545 L 233.406867 -64.908545 L 232.384681 -64.908545 L 231.362495 -64.908545 L 230.340309 -64.908545 L 229.318123 -64.908545 L 228.295936 -64.908545 L 227.27375 -64.908545 L 226.251564 -64.908545 L 225.229378 -64.908545 L 224.207192 -64.908545 L 223.185005 -64.908545 L 222.162819 -64.908545 L 221.140633 -64.908545 L 220.118447 -64.908545 L 219.096261 -64.908545 L 218.074075 -64.908545 L 217.051888 -64.908545 L 216.029702 -64.908545 L 215.007516 -64.908545 L 213.98533 -64.908545 L 212.963144 -64.908545 L 211.940957 -64.908545 L 210.918771 -64.908545 L 209.896585 -64.908545 L 208.874399 -64.908545 L 207.852213 -64.908545 L 206.830026 -64.908545 L 205.80784 -64.908545 L 204.785654 -64.908545 L 203.763468 -64.908545 L 202.741282 -64.908545 L 201.719095 -64.908545 L 200.696909 -64.908545 L 199.674723 -64.908545 L 198.652537 -64.908545 L 197.630351 -64.908545 L 196.608165 -64.908545 L 195.585978 -64.908545 L 194.563792 -64.908545 L 193.541606 -64.908545 L 192.51942 -64.908545 L 191.497234 -64.908545 L 190.475047 -64.908545 L 189.452861 -64.908545 L 188.430675 -64.908545 L 187.408489 -64.908545 L 186.386303 -64.908545 L 185.364116 -64.908545 L 184.34193 -64.908545 L 183.319744 -64.908545 L 182.297558 -64.908545 L 181.275372 -64.908545 L 180.253185 -64.908545 L 179.230999 -64.908545 L 178.208813 -64.908545 L 177.186627 -64.908545 L 176.164441 -64.908545 L 175.142255 -64.908545 L 174.120068 -64.908545 L 173.097882 -64.908545 L 172.075696 -64.908545 L 171.05351 -64.908545 L 170.031324 -64.908545 L 169.009137 -64.908545 L 167.986951 -64.908545 L 166.964765 -64.908545 L 165.942579 -64.908545 L 164.920393 -64.908545 L 163.898206 -64.908545 L 162.87602 -64.908545 L 161.853834 -64.908545 L 160.831648 -64.908545 L 159.809462 -64.908545 L 158.787275 -64.908545 L 157.765089 -64.908545 L 156.742903 -64.908545 L 155.720717 -64.908545 L 154.698531 -64.908545 L 153.676345 -64.908545 L 152.654158 -64.908545 L 151.631972 -64.908545 L 150.609786 -64.908545 L 149.5876 -64.908545 L 148.565414 -64.908545 L 147.543227 -64.908545 L 146.521041 -64.908545 L 145.498855 -64.908545 L 144.476669 -64.908545 L 143.454483 -64.908545 L 142.432296 -64.908545 L 141.41011 -64.908545 L 140.387924 -64.908545 L 139.365738 -64.908545 L 138.343552 -64.908545 L 137.321365 -64.908545 L 136.299179 -64.908545 L 135.276993 -64.908545 L 134.254807 -64.908545 L 133.232621 -64.908545 L 132.210435 -64.908545 L 131.188248 -64.908545 L 130.166062 -64.908545 L 129.143876 -64.908545 L 128.12169 -64.908545 L 127.099504 -64.908545 L 126.077317 -64.908545 L 125.055131 -64.908545 L 124.032945 -64.908545 L 123.010759 -64.908545 L 121.988573 -64.908545 L 120.966386 -64.908545 L 119.9442 -64.908545 L 118.922014 -64.908545 L 117.899828 -64.908545 L 116.877642 -64.908545 L 115.855455 -64.908545 L 114.833269 -64.908545 L 113.811083 -64.908545 L 112.788897 -64.908545 L 111.766711 -64.908545 L 110.744525 -64.908545 L 109.722338 -64.908545 L 108.700152 -64.908545 L 107.677966 -64.908545 L 106.65578 -64.908545 L 105.633594 -64.908545 L 104.611407 -64.908545 L 103.589221 -64.908545 L 102.567035 -64.908545 L 101.544849 -64.908545 L 100.522663 -64.908545 L 99.500476 -64.908545 L 98.47829 -64.908545 L 97.456104 -64.908545 L 96.433918 -64.908545 L 95.411732 -64.908545 L 94.389545 -64.908545 z
" style="fill: #4682b4; fill-opacity: 0.2; stroke: #4682b4; stroke-opacity: 0.2"/>
</g>
</g>
<g id="line2d_59">
<path d="M 94.389545 943.091455 L 108.700152 905.536794 L 116.877642 884.688118 L 124.032945 867.092253 L 130.166062 852.632555 L 135.276993 841.101652 L 140.387924 830.102001 L 145.498855 819.684632 L 149.5876 811.801095 L 153.676345 804.340919 L 157.765089 797.322968 L 161.853834 790.763763 L 165.942579 784.677433 L 170.031324 779.075673 L 173.097882 775.198005 L 176.164441 771.601149 L 179.230999 768.287326 L 182.297558 765.257986 L 185.364116 762.513821 L 188.430675 760.054775 L 191.497234 757.880058 L 194.563792 755.988165 L 197.630351 754.376891 L 200.696909 753.043357 L 203.763468 751.984032 L 206.830026 751.194756 L 209.896585 750.670773 L 212.963144 750.406755 L 216.029702 750.396836 L 219.096261 750.634643 L 222.162819 751.113328 L 225.229378 751.825605 L 228.295936 752.763782 L 231.362495 753.919799 L 234.429054 755.285263 L 237.495612 756.851484 L 241.584357 759.236564 L 245.673102 761.940791 L 249.761846 764.94179 L 253.850591 768.216783 L 257.939336 771.742731 L 263.050267 776.467792 L 268.161198 781.503631 L 274.294315 787.893953 L 281.449618 795.732761 L 289.627108 805.055687 L 301.893342 819.429149 L 318.248321 838.572019 L 327.447997 849.002761 L 335.625486 857.929403 L 342.78079 865.411807 L 349.936093 872.545924 L 356.06921 878.360446 L 362.202327 883.882635 L 368.335445 889.102813 L 374.468562 894.015307 L 380.601679 898.618087 L 386.734796 902.912384 L 392.867913 906.902305 L 399.00103 910.594456 L 405.134147 913.997563 L 411.267265 917.122111 L 417.400382 919.980004 L 423.533499 922.584243 L 429.666616 924.948626 L 435.799733 927.08748 L 441.93285 929.015421 L 449.088154 931.017698 L 456.243457 932.775975 L 463.39876 934.312795 L 471.57625 935.825796 L 479.753739 937.108602 L 488.953415 938.312194 L 498.153091 939.298008 L 508.374953 940.178637 L 519.619001 940.932771 L 532.907421 941.594813 L 548.240214 942.126544 L 566.639565 942.534584 L 590.149848 942.825413 L 604.460455 942.925089 L 604.460455 942.925089 " clip-path="url(#p8ad40d5c7a)" style="fill: none; stroke: #4682b4; stroke-width: 2; stroke-linecap: round"/>
</g>
<g id="line2d_60">
<path d="M 94.389545 943.091455 L 98.47829 942.961558 L 102.567035 942.572319 L 106.65578 941.925086 L 110.744525 941.022097 L 114.833269 939.866471 L 118.922014 938.462183 L 123.010759 936.814045 L 127.099504 934.927682 L 131.188248 932.809492 L 135.276993 930.466616 L 139.365738 927.906897 L 144.476669 924.41532 L 149.5876 920.61618 L 154.698531 916.528741 L 159.809462 912.173442 L 165.942579 906.623762 L 172.075696 900.757883 L 179.230999 893.567959 L 186.386303 886.066627 L 195.585978 876.069459 L 206.830026 863.498352 L 236.473426 830.169554 L 246.695288 819.12115 L 254.872777 810.593166 L 263.050267 802.397876 L 270.20557 795.533708 L 277.360874 788.98015 L 284.516177 782.755184 L 290.649294 777.691083 L 296.782411 772.883616 L 302.915528 768.335945 L 309.048645 764.049033 L 315.181763 760.021815 L 321.31488 756.251384 L 327.447997 752.733182 L 333.581114 749.461194 L 339.714231 746.428145 L 345.847348 743.625688 L 351.980465 741.044596 L 358.113583 738.674936 L 365.268886 736.163577 L 372.424189 733.908499 L 379.579493 731.892079 L 386.734796 730.096592 L 394.912285 728.292604 L 403.089775 726.728592 L 411.267265 725.379862 L 420.46694 724.090695 L 430.688802 722.905103 L 440.910664 721.941473 L 452.154712 721.095932 L 465.443133 720.332108 L 479.753739 719.732643 L 497.130905 719.234628 L 518.596815 718.857541 L 547.218028 718.599446 L 591.172034 718.456865 L 604.460455 718.440545 L 604.460455 718.440545 " clip-path="url(#p8ad40d5c7a)" style="fill: none; stroke: #ff6347; stroke-width: 2; stroke-linecap: round"/>
</g>
<g id="line2d_61">
<path d="M 69.3360 719.0640 L 630.2160 719.0640" clip-path="url(#p8ad40d5c7a)" style="fill: none; stroke-dasharray: 3.7,1.6; stroke-dashoffset: 0; stroke: #ff6347; stroke-opacity: 0.6"/>
</g>
<g id="patch_15">
<path d="M 68.9760 954.1440 L 68.9760 707.1840" style="fill: none; stroke: #cccccc; stroke-width: 1.25; stroke-linejoin: miter; stroke-linecap: square"/>
</g>
<g id="patch_16">
<path d="M 629.8560 954.1440 L 629.8560 707.1840" style="fill: none; stroke: #cccccc; stroke-width: 1.25; stroke-linejoin: miter; stroke-linecap: square"/>
</g>
<g id="patch_17">
<path d="M 68.9760 954.1440 L 629.8560 954.1440" style="fill: none; stroke: #cccccc; stroke-width: 1.25; stroke-linejoin: miter; stroke-linecap: square"/>
</g>
<g id="patch_18">
<path d="M 68.9760 707.1840 L 629.8560 707.1840" style="fill: none; stroke: #cccccc; stroke-width: 1.25; stroke-linejoin: miter; stroke-linecap: square"/>
</g>
<g id="T46">
<g id="T46_0" transform="translate(1.0080 -0.5040)">
<!-- $I^2 = \pi$ -->
<g style="fill: #ff6347" transform="translate(519.448636 714.836946)">
<text x="0.0000" y="-0.0688" textLength="3.2441" lengthAdjust="spacingAndGlyphs" style="font-style: italic; font-size: 11.495px; font-family: 'Liberation Sans'; fill: #ff6347">I</text>
<text x="22.7181" y="-0.0688" textLength="6.6226" lengthAdjust="spacingAndGlyphs" style="font-style: italic; font-size: 11.495px; font-family: 'Liberation Sans'; fill: #ff6347">π</text>
<text x="4.0154" y="-4.2797" textLength="4.8990" lengthAdjust="spacingAndGlyphs" style="font-style: normal; font-size: 8.046px; font-family: 'Liberation Sans'; fill: #ff6347">2</text>
<text x="12.2745" y="-0.0688" textLength="7.3842" lengthAdjust="spacingAndGlyphs" style="font-style: normal; font-size: 11.495px; font-family: 'Liberation Sans'; fill: #ff6347">=</text>
</g>
</g>
</g>
<g id="T47">
<g id="patch_19">
<path d="M 179.401364 819.220078 L 269.758793 819.220078 Q 272.458793 819.220078 272.458793 816.520078 L 272.458793 740.760778 Q 272.458793 738.060778 269.758793 738.060778 L 179.401364 738.060778 Q 176.701364 738.060778 176.701364 740.760778 L 176.701364 816.520078 Q 176.701364 819.220078 179.401364 819.220078 z
" style="fill: #ffffff; opacity: 0.8; stroke: #ffffff; stroke-linejoin: miter"/>
</g>
<g id="T47_0" transform="translate(0.0720 1.5120)">
<!-- $I = \int_{-\infty}^{+\infty} e^{-x^2}dx$ -->
<g style="fill: #333333" transform="translate(179.401364 757.631278)">
<text x="0.0000" y="-0.3797" textLength="2.6543" lengthAdjust="spacingAndGlyphs" style="font-style: italic; font-size: 9.405px; font-family: 'Liberation Sans'; fill: #333333">I</text>
<text x="32.0367" y="-0.3797" textLength="5.5371" lengthAdjust="spacingAndGlyphs" style="font-style: italic; font-size: 9.405px; font-family: 'Liberation Sans'; fill: #333333">e</text>
<text x="50.5058" y="-0.3797" textLength="5.7129" lengthAdjust="spacingAndGlyphs" style="font-style: italic; font-size: 9.405px; font-family: 'Liberation Sans'; fill: #333333">d</text>
<text x="56.2187" y="-0.3797" textLength="5.3262" lengthAdjust="spacingAndGlyphs" style="font-style: italic; font-size: 9.405px; font-family: 'Liberation Sans'; fill: #333333">x</text>
<text x="5.1574" y="-0.3797" textLength="6.0416" lengthAdjust="spacingAndGlyphs" style="font-style: normal; font-size: 9.405px; font-family: 'Liberation Sans'; fill: #333333">=</text>
<path transform="translate(13.7021 -0.3797) scale(0.004395 -0.004395)" d="M683 1768Q695 2192 1030 2192Q1316 2192 1344 1817L1134 1796Q1110 1980 1030 1980Q930 1980 918 1732L826 -191Q815 -615 479 -615Q193 -615 165 -240L375 -219Q399 -403 479 -403Q579 -403 591 -156Z" style="fill: #333333"/>
<text x="20.6852" y="4.2922" textLength="4.2291" lengthAdjust="spacingAndGlyphs" style="font-style: normal; font-size: 6.583px; font-family: 'Liberation Sans'; fill: #333333">−</text>
<text x="22.0349" y="-8.0516" textLength="4.2291" lengthAdjust="spacingAndGlyphs" style="font-style: normal; font-size: 6.583px; font-family: 'Liberation Sans'; fill: #333333">+</text>
<text x="25.4391" y="4.2922" textLength="5.2479" lengthAdjust="spacingAndGlyphs" style="font-style: normal; font-size: 6.583px; font-family: 'Liberation Sans'; fill: #333333">∞</text>
<text x="26.7888" y="-8.0516" textLength="5.2479" lengthAdjust="spacingAndGlyphs" style="font-style: normal; font-size: 6.583px; font-family: 'Liberation Sans'; fill: #333333">∞</text>
<text x="38.5181" y="-3.8250" textLength="4.2291" lengthAdjust="spacingAndGlyphs" style="font-style: normal; font-size: 6.583px; font-family: 'Liberation Sans'; fill: #333333">−</text>
<text x="43.2720" y="-3.8250" textLength="3.7283" lengthAdjust="spacingAndGlyphs" style="font-style: italic; font-size: 6.583px; font-family: 'Liberation Sans'; fill: #333333">x</text>
<text x="47.2817" y="-6.2367" textLength="2.8058" lengthAdjust="spacingAndGlyphs" style="font-style: normal; font-size: 4.608px; font-family: 'Liberation Sans'; fill: #333333">2</text>
</g>
</g>
<g id="T47_1" transform="translate(-0.4680 1.0080)">
<!-- $I^2 = \iint e^{-(x^2+y^2)}dxdy$ -->
<g style="fill: #333333" transform="translate(179.401364 777.370528)">
<text x="0.0000" y="-0.3594" textLength="2.6543" lengthAdjust="spacingAndGlyphs" style="font-style: italic; font-size: 9.405px; font-family: 'Liberation Sans'; fill: #333333">I</text>
<text x="28.6296" y="-0.3594" textLength="5.5371" lengthAdjust="spacingAndGlyphs" style="font-style: italic; font-size: 9.405px; font-family: 'Liberation Sans'; fill: #333333">e</text>
<text x="66.7357" y="-0.3594" textLength="5.7129" lengthAdjust="spacingAndGlyphs" style="font-style: italic; font-size: 9.405px; font-family: 'Liberation Sans'; fill: #333333">d</text>
<text x="72.4486" y="-0.3594" textLength="5.3262" lengthAdjust="spacingAndGlyphs" style="font-style: italic; font-size: 9.405px; font-family: 'Liberation Sans'; fill: #333333">x</text>
<text x="77.7747" y="-0.3594" textLength="5.7129" lengthAdjust="spacingAndGlyphs" style="font-style: italic; font-size: 9.405px; font-family: 'Liberation Sans'; fill: #333333">d</text>
<text x="83.4876" y="-0.3594" textLength="5.3262" lengthAdjust="spacingAndGlyphs" style="font-style: italic; font-size: 9.405px; font-family: 'Liberation Sans'; fill: #333333">y</text>
<text x="3.2859" y="-3.8047" textLength="4.0083" lengthAdjust="spacingAndGlyphs" style="font-style: normal; font-size: 6.583px; font-family: 'Liberation Sans'; fill: #333333">2</text>
<text x="35.1110" y="-3.8047" textLength="4.2291" lengthAdjust="spacingAndGlyphs" style="font-style: normal; font-size: 6.583px; font-family: 'Liberation Sans'; fill: #333333">−</text>
<text x="39.8649" y="-3.8047" textLength="2.4579" lengthAdjust="spacingAndGlyphs" style="font-style: normal; font-size: 6.583px; font-family: 'Liberation Sans'; fill: #333333">(</text>
<text x="51.0627" y="-3.8047" textLength="4.2291" lengthAdjust="spacingAndGlyphs" style="font-style: normal; font-size: 6.583px; font-family: 'Liberation Sans'; fill: #333333">+</text>
<text x="64.0317" y="-3.8047" textLength="2.4579" lengthAdjust="spacingAndGlyphs" style="font-style: normal; font-size: 6.583px; font-family: 'Liberation Sans'; fill: #333333">)</text>
<text x="10.0434" y="-0.3594" textLength="6.0416" lengthAdjust="spacingAndGlyphs" style="font-style: normal; font-size: 9.405px; font-family: 'Liberation Sans'; fill: #333333">=</text>
<path transform="translate(18.5881 -0.3594) scale(0.004395 -0.004395)" d="M683 1768Q695 2192 1030 2192Q1316 2192 1344 1817L1134 1796Q1110 1980 1030 1980Q930 1980 918 1732L826 -191Q815 -615 479 -615Q193 -615 165 -240L375 -219Q399 -403 479 -403Q579 -403 591 -156Z" style="fill: #333333"/><path transform="translate(21.9983 -0.3594) scale(0.004395 -0.004395)" d="M683 1768Q695 2192 1030 2192Q1316 2192 1344 1817L1134 1796Q1110 1980 1030 1980Q930 1980 918 1732L826 -191Q815 -615 479 -615Q193 -615 165 -240L375 -219Q399 -403 479 -403Q579 -403 591 -156Z" style="fill: #333333"/>
<text x="42.3228" y="-3.8047" textLength="3.7283" lengthAdjust="spacingAndGlyphs" style="font-style: italic; font-size: 6.583px; font-family: 'Liberation Sans'; fill: #333333">x</text>
<text x="57.0440" y="-3.8047" textLength="3.7283" lengthAdjust="spacingAndGlyphs" style="font-style: italic; font-size: 6.583px; font-family: 'Liberation Sans'; fill: #333333">y</text>
<text x="46.3325" y="-6.2164" textLength="2.8058" lengthAdjust="spacingAndGlyphs" style="font-style: normal; font-size: 4.608px; font-family: 'Liberation Sans'; fill: #333333">2</text>
<text x="61.0537" y="-6.2164" textLength="2.8058" lengthAdjust="spacingAndGlyphs" style="font-style: normal; font-size: 4.608px; font-family: 'Liberation Sans'; fill: #333333">2</text>
</g>
</g>
<g id="T47_2" transform="translate(0.0360 0.0000)">
<!-- $= 2\pi\int_0^\infty re^{-r^2}dr = \pi$ -->
<g style="fill: #333333" transform="translate(179.401364 797.158828)">
<text x="2.5031" y="-0.2656" textLength="6.0416" lengthAdjust="spacingAndGlyphs" style="font-style: normal; font-size: 9.405px; font-family: 'Liberation Sans'; fill: #333333">=</text>
<text x="11.0479" y="-0.2656" textLength="5.7261" lengthAdjust="spacingAndGlyphs" style="font-style: normal; font-size: 9.405px; font-family: 'Liberation Sans'; fill: #333333">2</text>
<text x="68.2078" y="-0.2656" textLength="6.0416" lengthAdjust="spacingAndGlyphs" style="font-style: normal; font-size: 9.405px; font-family: 'Liberation Sans'; fill: #333333">=</text>
<text x="16.7739" y="-0.2656" textLength="5.4185" lengthAdjust="spacingAndGlyphs" style="font-style: italic; font-size: 9.405px; font-family: 'Liberation Sans'; fill: #333333">π</text>
<text x="35.3758" y="-0.2656" textLength="3.4451" lengthAdjust="spacingAndGlyphs" style="font-style: italic; font-size: 9.405px; font-family: 'Liberation Sans'; fill: #333333">r</text>
<text x="38.9485" y="-0.2656" textLength="5.5371" lengthAdjust="spacingAndGlyphs" style="font-style: italic; font-size: 9.405px; font-family: 'Liberation Sans'; fill: #333333">e</text>
<text x="56.2916" y="-0.2656" textLength="5.7129" lengthAdjust="spacingAndGlyphs" style="font-style: italic; font-size: 9.405px; font-family: 'Liberation Sans'; fill: #333333">d</text>
<text x="62.1320" y="-0.2656" textLength="3.4451" lengthAdjust="spacingAndGlyphs" style="font-style: italic; font-size: 9.405px; font-family: 'Liberation Sans'; fill: #333333">r</text>
<text x="76.7526" y="-0.2656" textLength="5.4185" lengthAdjust="spacingAndGlyphs" style="font-style: italic; font-size: 9.405px; font-family: 'Liberation Sans'; fill: #333333">π</text>
<path transform="translate(22.1924 -0.2656) scale(0.004395 -0.004395)" d="M683 1768Q695 2192 1030 2192Q1316 2192 1344 1817L1134 1796Q1110 1980 1030 1980Q930 1980 918 1732L826 -191Q815 -615 479 -615Q193 -615 165 -240L375 -219Q399 -403 479 -403Q579 -403 591 -156Z" style="fill: #333333"/>
<text x="28.6506" y="4.4062" textLength="4.0083" lengthAdjust="spacingAndGlyphs" style="font-style: normal; font-size: 6.583px; font-family: 'Liberation Sans'; fill: #333333">0</text>
<text x="30.0003" y="-7.9375" textLength="5.2479" lengthAdjust="spacingAndGlyphs" style="font-style: normal; font-size: 6.583px; font-family: 'Liberation Sans'; fill: #333333">∞</text>
<text x="45.4298" y="-3.7109" textLength="4.2291" lengthAdjust="spacingAndGlyphs" style="font-style: normal; font-size: 6.583px; font-family: 'Liberation Sans'; fill: #333333">−</text>
<text x="50.2730" y="-3.7109" textLength="2.4116" lengthAdjust="spacingAndGlyphs" style="font-style: italic; font-size: 6.583px; font-family: 'Liberation Sans'; fill: #333333">r</text>
<text x="53.0675" y="-6.1227" textLength="2.8058" lengthAdjust="spacingAndGlyphs" style="font-style: normal; font-size: 4.608px; font-family: 'Liberation Sans'; fill: #333333">2</text>
</g>
</g>
<g id="T47_3" transform="translate(0.7560 -0.4320)">
<!-- $I = \sqrt{\pi}$ -->
<g style="fill: #333333" transform="translate(179.401364 814.360078)">
<text x="0.0000" y="-0.1631" textLength="2.6543" lengthAdjust="spacingAndGlyphs" style="font-style: italic; font-size: 9.405px; font-family: 'Liberation Sans'; fill: #333333">I</text>
<text x="20.5620" y="-0.5156" textLength="5.4185" lengthAdjust="spacingAndGlyphs" style="font-style: italic; font-size: 9.405px; font-family: 'Liberation Sans'; fill: #333333">π</text>
<text x="5.1574" y="-0.1631" textLength="6.0416" lengthAdjust="spacingAndGlyphs" style="font-style: normal; font-size: 9.405px; font-family: 'Liberation Sans'; fill: #333333">=</text>
<text x="13.7021" y="-0.1631" textLength="5.7349" lengthAdjust="spacingAndGlyphs" style="font-style: normal; font-size: 9.405px; font-family: 'Liberation Sans'; fill: #333333">√</text>
<rect x="19.437012" y="-7.875" width="7.668457" height="0.5625"/>
</g>
</g>
</g>
<g id="T68">
<g id="T68_0" transform="translate(0.0000 0.0000)">
<text style="font-size: 13.794px; font-family: 'Liberation Sans', sans-serif; fill: #2f2f2f" transform="translate(201.375 680.184)" textLength="295.973" lengthAdjust="spacingAndGlyphs">Intégrale de Gauss par coordonnées polaires</text>
</g>
<g id="T68_1" transform="translate(1.5120 0.0000)">
<!-- $\int e^{-x^2}dx = \sqrt{\pi}$ -->
<g style="fill: #333333" transform="translate(304.194628 701.208)">
<path transform="translate(0.0000 -0.0781) scale(0.006445 -0.006445)" d="M683 1768Q695 2192 1030 2192Q1316 2192 1344 1817L1134 1796Q1110 1980 1030 1980Q930 1980 918 1732L826 -191Q815 -615 479 -615Q193 -615 165 -240L375 -219Q399 -403 479 -403Q579 -403 591 -156Z" style="fill: #333333"/>
<text x="9.7563" y="-0.0781" textLength="8.1211" lengthAdjust="spacingAndGlyphs" style="font-style: italic; font-size: 13.794px; font-family: 'Liberation Sans'; fill: #333333">e</text>
<text x="36.9147" y="-0.0781" textLength="8.3789" lengthAdjust="spacingAndGlyphs" style="font-style: italic; font-size: 13.794px; font-family: 'Liberation Sans'; fill: #333333">d</text>
<text x="45.3253" y="-0.0781" textLength="7.8117" lengthAdjust="spacingAndGlyphs" style="font-style: italic; font-size: 13.794px; font-family: 'Liberation Sans'; fill: #333333">x</text>
<text x="79.5245" y="-0.4826" textLength="7.9471" lengthAdjust="spacingAndGlyphs" style="font-style: italic; font-size: 13.794px; font-family: 'Liberation Sans'; fill: #333333">π</text>
<text x="19.2826" y="-5.0547" textLength="6.2027" lengthAdjust="spacingAndGlyphs" style="font-style: normal; font-size: 9.656px; font-family: 'Liberation Sans'; fill: #333333">−</text>
<text x="26.2843" y="-5.0547" textLength="5.4682" lengthAdjust="spacingAndGlyphs" style="font-style: italic; font-size: 9.656px; font-family: 'Liberation Sans'; fill: #333333">x</text>
<text x="32.1796" y="-8.5383" textLength="4.1151" lengthAdjust="spacingAndGlyphs" style="font-style: normal; font-size: 6.759px; font-family: 'Liberation Sans'; fill: #333333">2</text>
<text x="56.8476" y="-0.0781" textLength="8.8610" lengthAdjust="spacingAndGlyphs" style="font-style: normal; font-size: 13.794px; font-family: 'Liberation Sans'; fill: #333333">=</text>
<text x="69.4315" y="-0.0781" textLength="8.4111" lengthAdjust="spacingAndGlyphs" style="font-style: normal; font-size: 13.794px; font-family: 'Liberation Sans'; fill: #333333">√</text>
<rect x="77.874497" y="-10.767" width="11.277173" height="0.825"/>
</g>
</g>
</g>
<g id="legend_3">
<g id="patch_20">
<path d="M 474.6960 850.1040 L 623.7360 850.1040 Q 625.8960 850.1040 625.8960 848.6640 L 625.8960 814.1040 Q 625.8960 811.9440 623.7360 811.9440 L 474.6960 811.9440 Q 473.2560 811.9440 473.2560 814.1040 L 473.2560 848.6640 Q 473.2560 850.1040 474.6960 850.1040 z
" style="fill: #ffffff; opacity: 0.8; stroke: #cccccc; stroke-linejoin: miter"/>
</g>
<g id="line2d_62">
<path d="M 476.8560 823.4640 L 485.4960 823.4640 L 494.8560 823.4640" style="fill: none; stroke: #4682b4; stroke-width: 2; stroke-linecap: round"/>
</g>
<g id="T69">
<g id="T69_0" transform="translate(1.0080 0.0000)">
<!-- $2\pi r e^{-r^2}$ (intégrand polaire) -->
<g style="fill: #333333" transform="translate(501.602571 825.9024)">
<text x="0.0000" y="-0.8661" textLength="5.7261" lengthAdjust="spacingAndGlyphs" style="font-style: normal; font-size: 9.405px; font-family: 'Liberation Sans'; fill: #333333">2</text>
<text x="32.1879" y="-0.8661" textLength="2.8608" lengthAdjust="spacingAndGlyphs" style="font-style: normal; font-size: 9.405px; font-family: 'Liberation Sans'; fill: #333333"> </text>
<text x="35.0487" y="-0.8661" textLength="3.5112" lengthAdjust="spacingAndGlyphs" style="font-style: normal; font-size: 9.405px; font-family: 'Liberation Sans'; fill: #333333">(</text>
<text x="38.6610" y="-0.8661" textLength="2.2984" lengthAdjust="spacingAndGlyphs" style="font-style: normal; font-size: 9.405px; font-family: 'Liberation Sans'; fill: #333333">i</text>
<text x="41.0604" y="-0.8661" textLength="5.7041" lengthAdjust="spacingAndGlyphs" style="font-style: normal; font-size: 9.405px; font-family: 'Liberation Sans'; fill: #333333">n</text>
<text x="47.0918" y="-0.8661" textLength="2.8743" lengthAdjust="spacingAndGlyphs" style="font-style: normal; font-size: 9.405px; font-family: 'Liberation Sans'; fill: #333333">t</text>
<text x="50.2934" y="-0.8661" textLength="5.5371" lengthAdjust="spacingAndGlyphs" style="font-style: normal; font-size: 9.405px; font-family: 'Liberation Sans'; fill: #333333">é</text>
<text x="55.8305" y="-0.8661" textLength="5.7129" lengthAdjust="spacingAndGlyphs" style="font-style: normal; font-size: 9.405px; font-family: 'Liberation Sans'; fill: #333333">g</text>
<text x="61.6709" y="-0.8661" textLength="3.4451" lengthAdjust="spacingAndGlyphs" style="font-style: normal; font-size: 9.405px; font-family: 'Liberation Sans'; fill: #333333">r</text>
<text x="65.2436" y="-0.8661" textLength="5.5151" lengthAdjust="spacingAndGlyphs" style="font-style: normal; font-size: 9.405px; font-family: 'Liberation Sans'; fill: #333333">a</text>
<text x="70.7587" y="-0.8661" textLength="5.7041" lengthAdjust="spacingAndGlyphs" style="font-style: normal; font-size: 9.405px; font-family: 'Liberation Sans'; fill: #333333">n</text>
<text x="76.4628" y="-0.8661" textLength="5.7129" lengthAdjust="spacingAndGlyphs" style="font-style: normal; font-size: 9.405px; font-family: 'Liberation Sans'; fill: #333333">d</text>
<text x="82.1757" y="-0.8661" textLength="2.8608" lengthAdjust="spacingAndGlyphs" style="font-style: normal; font-size: 9.405px; font-family: 'Liberation Sans'; fill: #333333"> </text>
<text x="85.0365" y="-0.8661" textLength="5.7129" lengthAdjust="spacingAndGlyphs" style="font-style: normal; font-size: 9.405px; font-family: 'Liberation Sans'; fill: #333333">p</text>
<text x="90.7494" y="-0.8661" textLength="5.5063" lengthAdjust="spacingAndGlyphs" style="font-style: normal; font-size: 9.405px; font-family: 'Liberation Sans'; fill: #333333">o</text>
<text x="96.3568" y="-0.8661" textLength="2.2984" lengthAdjust="spacingAndGlyphs" style="font-style: normal; font-size: 9.405px; font-family: 'Liberation Sans'; fill: #333333">l</text>
<text x="98.7562" y="-0.8661" textLength="5.5151" lengthAdjust="spacingAndGlyphs" style="font-style: normal; font-size: 9.405px; font-family: 'Liberation Sans'; fill: #333333">a</text>
<text x="104.3724" y="-0.8661" textLength="2.2984" lengthAdjust="spacingAndGlyphs" style="font-style: normal; font-size: 9.405px; font-family: 'Liberation Sans'; fill: #333333">i</text>
<text x="106.8994" y="-0.8661" textLength="3.4451" lengthAdjust="spacingAndGlyphs" style="font-style: normal; font-size: 9.405px; font-family: 'Liberation Sans'; fill: #333333">r</text>
<text x="110.4721" y="-0.8661" textLength="5.5371" lengthAdjust="spacingAndGlyphs" style="font-style: normal; font-size: 9.405px; font-family: 'Liberation Sans'; fill: #333333">e</text>
<text x="116.0092" y="-0.8661" textLength="3.5112" lengthAdjust="spacingAndGlyphs" style="font-style: normal; font-size: 9.405px; font-family: 'Liberation Sans'; fill: #333333">)</text>
<text x="5.7261" y="-0.8661" textLength="5.4185" lengthAdjust="spacingAndGlyphs" style="font-style: italic; font-size: 9.405px; font-family: 'Liberation Sans'; fill: #333333">π</text>
<text x="11.2721" y="-0.8661" textLength="3.4451" lengthAdjust="spacingAndGlyphs" style="font-style: italic; font-size: 9.405px; font-family: 'Liberation Sans'; fill: #333333">r</text>
<text x="14.8447" y="-0.8661" textLength="5.5371" lengthAdjust="spacingAndGlyphs" style="font-style: italic; font-size: 9.405px; font-family: 'Liberation Sans'; fill: #333333">e</text>
<text x="21.3261" y="-4.3114" textLength="4.2291" lengthAdjust="spacingAndGlyphs" style="font-style: normal; font-size: 6.583px; font-family: 'Liberation Sans'; fill: #333333">−</text>
<text x="26.1693" y="-4.3114" textLength="2.4116" lengthAdjust="spacingAndGlyphs" style="font-style: italic; font-size: 6.583px; font-family: 'Liberation Sans'; fill: #333333">r</text>
<text x="28.9638" y="-6.7231" textLength="2.8058" lengthAdjust="spacingAndGlyphs" style="font-style: normal; font-size: 4.608px; font-family: 'Liberation Sans'; fill: #333333">2</text>
</g>
</g>
</g>
<g id="line2d_63">
<path d="M 476.8560 840.0240 L 485.4960 840.0240 L 494.8560 840.0240" style="fill: none; stroke: #ff6347; stroke-width: 2; stroke-linecap: round"/>
</g>
<g id="T70">
<g id="T70_0" transform="translate(0.9720 1.5120)">
<!-- Intégrale cumulée $\to \pi$ -->
<g style="fill: #333333" transform="translate(501.602571 842.6424)">
<text x="0.0000" y="-0.7969" textLength="2.6543" lengthAdjust="spacingAndGlyphs" style="font-style: normal; font-size: 9.405px; font-family: 'Liberation Sans'; fill: #333333">I</text>
<text x="2.6543" y="-0.7969" textLength="5.7041" lengthAdjust="spacingAndGlyphs" style="font-style: normal; font-size: 9.405px; font-family: 'Liberation Sans'; fill: #333333">n</text>
<text x="8.6856" y="-0.7969" textLength="2.8743" lengthAdjust="spacingAndGlyphs" style="font-style: normal; font-size: 9.405px; font-family: 'Liberation Sans'; fill: #333333">t</text>
<text x="11.8872" y="-0.7969" textLength="5.5371" lengthAdjust="spacingAndGlyphs" style="font-style: normal; font-size: 9.405px; font-family: 'Liberation Sans'; fill: #333333">é</text>
<text x="17.4243" y="-0.7969" textLength="5.7129" lengthAdjust="spacingAndGlyphs" style="font-style: normal; font-size: 9.405px; font-family: 'Liberation Sans'; fill: #333333">g</text>
<text x="23.2647" y="-0.7969" textLength="3.4451" lengthAdjust="spacingAndGlyphs" style="font-style: normal; font-size: 9.405px; font-family: 'Liberation Sans'; fill: #333333">r</text>
<text x="26.8374" y="-0.7969" textLength="5.5151" lengthAdjust="spacingAndGlyphs" style="font-style: normal; font-size: 9.405px; font-family: 'Liberation Sans'; fill: #333333">a</text>
<text x="32.4536" y="-0.7969" textLength="2.2984" lengthAdjust="spacingAndGlyphs" style="font-style: normal; font-size: 9.405px; font-family: 'Liberation Sans'; fill: #333333">l</text>
<text x="34.8530" y="-0.7969" textLength="5.5371" lengthAdjust="spacingAndGlyphs" style="font-style: normal; font-size: 9.405px; font-family: 'Liberation Sans'; fill: #333333">e</text>
<text x="40.3901" y="-0.7969" textLength="2.8608" lengthAdjust="spacingAndGlyphs" style="font-style: normal; font-size: 9.405px; font-family: 'Liberation Sans'; fill: #333333"> </text>
<text x="43.2510" y="-0.7969" textLength="4.9482" lengthAdjust="spacingAndGlyphs" style="font-style: normal; font-size: 9.405px; font-family: 'Liberation Sans'; fill: #333333">c</text>
<text x="48.1992" y="-0.7969" textLength="5.7041" lengthAdjust="spacingAndGlyphs" style="font-style: normal; font-size: 9.405px; font-family: 'Liberation Sans'; fill: #333333">u</text>
<text x="53.9033" y="-0.7969" textLength="8.7671" lengthAdjust="spacingAndGlyphs" style="font-style: normal; font-size: 9.405px; font-family: 'Liberation Sans'; fill: #333333">m</text>
<text x="62.6704" y="-0.7969" textLength="5.7041" lengthAdjust="spacingAndGlyphs" style="font-style: normal; font-size: 9.405px; font-family: 'Liberation Sans'; fill: #333333">u</text>
<text x="68.4755" y="-0.7969" textLength="2.2984" lengthAdjust="spacingAndGlyphs" style="font-style: normal; font-size: 9.405px; font-family: 'Liberation Sans'; fill: #333333">l</text>
<text x="70.8750" y="-0.7969" textLength="5.5371" lengthAdjust="spacingAndGlyphs" style="font-style: normal; font-size: 9.405px; font-family: 'Liberation Sans'; fill: #333333">é</text>
<text x="76.4121" y="-0.7969" textLength="5.5371" lengthAdjust="spacingAndGlyphs" style="font-style: normal; font-size: 9.405px; font-family: 'Liberation Sans'; fill: #333333">e</text>
<text x="81.9492" y="-0.7969" textLength="2.8608" lengthAdjust="spacingAndGlyphs" style="font-style: normal; font-size: 9.405px; font-family: 'Liberation Sans'; fill: #333333"> </text>
<path transform="translate(86.5635 -0.7969) scale(0.004395 -0.004395)" d="M1616 687V597L1223 204L1103 324L1336 557H117V727H1336L1103 960L1223 1080Z" style="fill: #333333"/>
<text x="95.8579" y="-0.7969" textLength="5.4185" lengthAdjust="spacingAndGlyphs" style="font-style: italic; font-size: 9.405px; font-family: 'Liberation Sans'; fill: #333333">π</text>
</g>
</g>
</g>
</g>
</g>
</g>
<defs>
<clipPath id="pe4b443ccc8">
<rect x="68.886" y="30.696" width="561.078" height="247.116"/>
</clipPath>
<clipPath id="pe4210bb935">
<rect x="68.886" y="368.952" width="561.078" height="247.116"/>
</clipPath>
<clipPath id="p8ad40d5c7a">
<rect x="68.886" y="707.208" width="561.078" height="247.116"/>
</clipPath>
</defs>
</g></svg>

</div></body></html>
